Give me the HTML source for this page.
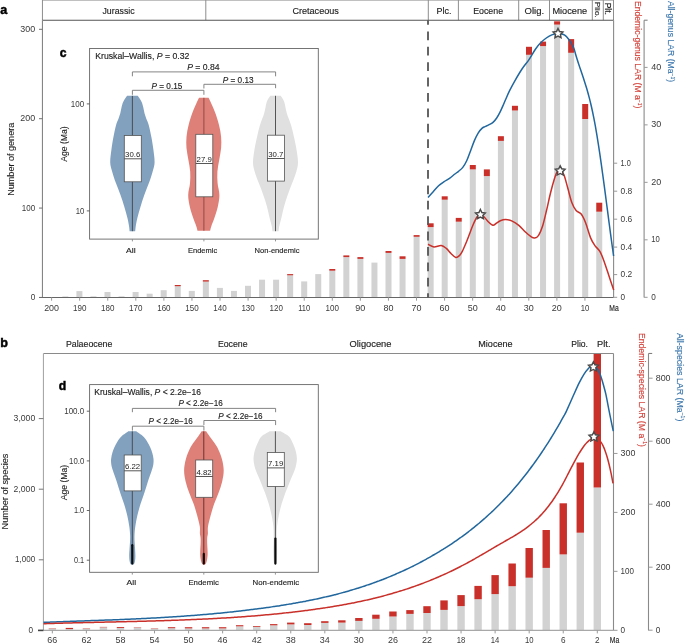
<!DOCTYPE html><html><head><meta charset="utf-8"><style>html,body{margin:0;padding:0;background:#fff;}svg{display:block;}text{font-family:"Liberation Sans", sans-serif;}</style></head><body>
<svg width="685" height="643" viewBox="0 0 685 643" style="will-change:transform">
<rect width="685" height="643" fill="#fff"/>
<text x="0.2" y="13.8" font-size="12.6" text-anchor="start" fill="#000" font-weight="bold" stroke="#000" stroke-width="0.45">a</text>
<line x1="42.5" y1="0.45" x2="613.5" y2="0.45" stroke="#b4b4b4" stroke-width="0.9"/>
<line x1="42.45" y1="0" x2="42.45" y2="20.2" stroke="#8e8e8e" stroke-width="1"/>
<line x1="205.8" y1="0" x2="205.8" y2="20.2" stroke="#8e8e8e" stroke-width="1"/>
<line x1="428.3" y1="0" x2="428.3" y2="20.2" stroke="#8e8e8e" stroke-width="1"/>
<line x1="458.4" y1="0" x2="458.4" y2="20.2" stroke="#8e8e8e" stroke-width="1"/>
<line x1="518.7" y1="0" x2="518.7" y2="20.2" stroke="#8e8e8e" stroke-width="1"/>
<line x1="549.5" y1="0" x2="549.5" y2="20.2" stroke="#8e8e8e" stroke-width="1"/>
<line x1="592.3" y1="0" x2="592.3" y2="20.2" stroke="#8e8e8e" stroke-width="1"/>
<line x1="603.3" y1="0" x2="603.3" y2="20.2" stroke="#8e8e8e" stroke-width="1"/>
<line x1="613.5" y1="0" x2="613.5" y2="20.2" stroke="#8e8e8e" stroke-width="1"/>
<line x1="42.45" y1="20.3" x2="613.6" y2="20.3" stroke="#555" stroke-width="1.1"/>
<text x="118.55" y="14.1" font-size="8.6" text-anchor="middle" fill="#1e1e1e" font-weight="normal" textLength="32.1" lengthAdjust="spacingAndGlyphs" stroke="#1e1e1e" stroke-width="0.14">Jurassic</text>
<text x="315.65" y="14.1" font-size="8.6" text-anchor="middle" fill="#1e1e1e" font-weight="normal" textLength="46.5" lengthAdjust="spacingAndGlyphs" stroke="#1e1e1e" stroke-width="0.14">Cretaceous</text>
<text x="443.95" y="14.1" font-size="8.6" text-anchor="middle" fill="#1e1e1e" font-weight="normal" textLength="14.9" lengthAdjust="spacingAndGlyphs" stroke="#1e1e1e" stroke-width="0.14">Plc.</text>
<text x="488.15" y="14.1" font-size="8.6" text-anchor="middle" fill="#1e1e1e" font-weight="normal" textLength="29.9" lengthAdjust="spacingAndGlyphs" stroke="#1e1e1e" stroke-width="0.14">Eocene</text>
<text x="534.4" y="14.1" font-size="8.6" text-anchor="middle" fill="#1e1e1e" font-weight="normal" textLength="19.6" lengthAdjust="spacingAndGlyphs" stroke="#1e1e1e" stroke-width="0.14">Olig.</text>
<text x="569.8" y="14.1" font-size="8.6" text-anchor="middle" fill="#1e1e1e" font-weight="normal" textLength="34.7" lengthAdjust="spacingAndGlyphs" stroke="#1e1e1e" stroke-width="0.14">Miocene</text>
<text x="0" y="0" font-size="7.6" fill="#1e1e1e" stroke="#1e1e1e" stroke-width="0.15" textLength="16" lengthAdjust="spacingAndGlyphs" transform="translate(595.4,1.8) rotate(90)">Plio.</text>
<text x="0" y="0" font-size="8.4" fill="#1e1e1e" stroke="#1e1e1e" stroke-width="0.15" textLength="12.2" lengthAdjust="spacingAndGlyphs" transform="translate(605.4,2.7) rotate(90)">Plt.</text>
<rect x="62.35" y="296.4" width="6" height="1.05" fill="#d2d2d2"/>
<rect x="76.4" y="291.1" width="6" height="6.35" fill="#d2d2d2"/>
<rect x="90.45" y="296.3" width="6" height="1.15" fill="#d2d2d2"/>
<rect x="104.5" y="292" width="6" height="5.45" fill="#d2d2d2"/>
<rect x="118.55" y="296.3" width="6" height="1.15" fill="#d2d2d2"/>
<rect x="132.6" y="292" width="6" height="5.45" fill="#d2d2d2"/>
<rect x="146.65" y="293.7" width="6" height="3.75" fill="#d2d2d2"/>
<rect x="160.7" y="290.2" width="6" height="7.25" fill="#d2d2d2"/>
<rect x="174.75" y="286.2" width="6" height="11.25" fill="#d2d2d2"/>
<rect x="174.75" y="285" width="6" height="1.2" fill="#c9302a"/>
<rect x="188.8" y="290.9" width="6" height="6.55" fill="#d2d2d2"/>
<rect x="202.85" y="281.6" width="6" height="15.85" fill="#d2d2d2"/>
<rect x="202.85" y="280.2" width="6" height="1.4" fill="#c9302a"/>
<rect x="216.9" y="287.9" width="6" height="9.55" fill="#d2d2d2"/>
<rect x="230.95" y="290.9" width="6" height="6.55" fill="#d2d2d2"/>
<rect x="245" y="285.8" width="6" height="11.65" fill="#d2d2d2"/>
<rect x="259.05" y="279.7" width="6" height="17.75" fill="#d2d2d2"/>
<rect x="273.1" y="279.7" width="6" height="17.75" fill="#d2d2d2"/>
<rect x="287.15" y="275.3" width="6" height="22.15" fill="#d2d2d2"/>
<rect x="287.15" y="274.1" width="6" height="1.2" fill="#c9302a"/>
<rect x="301.2" y="281.4" width="6" height="16.05" fill="#d2d2d2"/>
<rect x="315.25" y="274.1" width="6" height="23.35" fill="#d2d2d2"/>
<rect x="329.3" y="270.7" width="6" height="26.75" fill="#d2d2d2"/>
<rect x="329.3" y="269" width="6" height="1.7" fill="#c9302a"/>
<rect x="343.35" y="257.1" width="6" height="40.35" fill="#d2d2d2"/>
<rect x="343.35" y="255.4" width="6" height="1.7" fill="#c9302a"/>
<rect x="357.4" y="258.9" width="6" height="38.55" fill="#d2d2d2"/>
<rect x="357.4" y="257.1" width="6" height="1.8" fill="#c9302a"/>
<rect x="371.45" y="262.6" width="6" height="34.85" fill="#d2d2d2"/>
<rect x="385.5" y="252.9" width="6" height="44.55" fill="#d2d2d2"/>
<rect x="385.5" y="251" width="6" height="1.9" fill="#c9302a"/>
<rect x="399.55" y="258.9" width="6" height="38.55" fill="#d2d2d2"/>
<rect x="399.55" y="256.3" width="6" height="2.6" fill="#c9302a"/>
<rect x="413.6" y="236.8" width="6" height="60.65" fill="#d2d2d2"/>
<rect x="413.6" y="235.1" width="6" height="1.7" fill="#c9302a"/>
<rect x="427.65" y="227.1" width="6" height="70.35" fill="#d2d2d2"/>
<rect x="427.65" y="223.3" width="6" height="3.8" fill="#c9302a"/>
<rect x="441.7" y="199.7" width="6" height="97.75" fill="#d2d2d2"/>
<rect x="441.7" y="196.3" width="6" height="3.4" fill="#c9302a"/>
<rect x="455.75" y="221.7" width="6" height="75.75" fill="#d2d2d2"/>
<rect x="455.75" y="217.9" width="6" height="3.8" fill="#c9302a"/>
<rect x="469.8" y="169.4" width="6" height="128.05" fill="#d2d2d2"/>
<rect x="469.8" y="165" width="6" height="4.4" fill="#c9302a"/>
<rect x="483.85" y="176.1" width="6" height="121.35" fill="#d2d2d2"/>
<rect x="483.85" y="169.4" width="6" height="6.7" fill="#c9302a"/>
<rect x="497.9" y="140.9" width="6" height="156.55" fill="#d2d2d2"/>
<rect x="497.9" y="136.2" width="6" height="4.7" fill="#c9302a"/>
<rect x="511.95" y="110.5" width="6" height="186.95" fill="#d2d2d2"/>
<rect x="511.95" y="105.8" width="6" height="4.7" fill="#c9302a"/>
<rect x="526" y="54.8" width="6" height="242.65" fill="#d2d2d2"/>
<rect x="526" y="46.8" width="6" height="8" fill="#c9302a"/>
<rect x="540.05" y="46.1" width="6" height="251.35" fill="#d2d2d2"/>
<rect x="540.05" y="41.6" width="6" height="4.5" fill="#c9302a"/>
<rect x="554.1" y="24.6" width="6" height="272.85" fill="#d2d2d2"/>
<rect x="554.1" y="21.3" width="6" height="3.3" fill="#c9302a"/>
<rect x="568.15" y="52.8" width="6" height="244.65" fill="#d2d2d2"/>
<rect x="568.15" y="39.1" width="6" height="13.7" fill="#c9302a"/>
<rect x="582.2" y="119" width="6" height="178.45" fill="#d2d2d2"/>
<rect x="582.2" y="104" width="6" height="15" fill="#c9302a"/>
<rect x="596.25" y="211.7" width="6" height="85.75" fill="#d2d2d2"/>
<rect x="596.25" y="202.7" width="6" height="9" fill="#c9302a"/>
<line x1="42.45" y1="20.2" x2="42.45" y2="297.45" stroke="#858585" stroke-width="1.1"/>
<line x1="613.6" y1="20.2" x2="613.6" y2="297.45" stroke="#8a8a8a" stroke-width="1.1"/>
<line x1="39" y1="297.45" x2="613.6" y2="297.45" stroke="#666" stroke-width="1.1"/>
<line x1="39" y1="297.45" x2="42.45" y2="297.45" stroke="#707070" stroke-width="1"/>
<text x="35.2" y="299.95" font-size="8.2" text-anchor="end" fill="#3a3a3a" font-weight="normal">0</text>
<line x1="39" y1="208.07" x2="42.45" y2="208.07" stroke="#707070" stroke-width="1"/>
<text x="35.2" y="210.57" font-size="8.2" text-anchor="end" fill="#3a3a3a" font-weight="normal" textLength="13.4" lengthAdjust="spacingAndGlyphs">100</text>
<line x1="39" y1="118.69" x2="42.45" y2="118.69" stroke="#707070" stroke-width="1"/>
<text x="35.2" y="121.19" font-size="8.2" text-anchor="end" fill="#3a3a3a" font-weight="normal" textLength="14.85" lengthAdjust="spacingAndGlyphs">200</text>
<line x1="39" y1="29.31" x2="42.45" y2="29.31" stroke="#707070" stroke-width="1"/>
<text x="35.2" y="31.81" font-size="8.2" text-anchor="end" fill="#3a3a3a" font-weight="normal" textLength="14.85" lengthAdjust="spacingAndGlyphs">300</text>
<line x1="51.6" y1="297.45" x2="51.6" y2="300.7" stroke="#9a9a9a" stroke-width="1"/>
<text x="51.6" y="311.1" font-size="8.2" text-anchor="middle" fill="#3a3a3a" font-weight="normal" textLength="14.85" lengthAdjust="spacingAndGlyphs">200</text>
<line x1="79.67" y1="297.45" x2="79.67" y2="300.7" stroke="#9a9a9a" stroke-width="1"/>
<text x="79.67" y="311.1" font-size="8.2" text-anchor="middle" fill="#3a3a3a" font-weight="normal" textLength="13.4" lengthAdjust="spacingAndGlyphs">190</text>
<line x1="107.74" y1="297.45" x2="107.74" y2="300.7" stroke="#9a9a9a" stroke-width="1"/>
<text x="107.74" y="311.1" font-size="8.2" text-anchor="middle" fill="#3a3a3a" font-weight="normal" textLength="13.4" lengthAdjust="spacingAndGlyphs">180</text>
<line x1="135.81" y1="297.45" x2="135.81" y2="300.7" stroke="#9a9a9a" stroke-width="1"/>
<text x="135.81" y="311.1" font-size="8.2" text-anchor="middle" fill="#3a3a3a" font-weight="normal" textLength="13.4" lengthAdjust="spacingAndGlyphs">170</text>
<line x1="163.88" y1="297.45" x2="163.88" y2="300.7" stroke="#9a9a9a" stroke-width="1"/>
<text x="163.88" y="311.1" font-size="8.2" text-anchor="middle" fill="#3a3a3a" font-weight="normal" textLength="13.4" lengthAdjust="spacingAndGlyphs">160</text>
<line x1="191.95" y1="297.45" x2="191.95" y2="300.7" stroke="#9a9a9a" stroke-width="1"/>
<text x="191.95" y="311.1" font-size="8.2" text-anchor="middle" fill="#3a3a3a" font-weight="normal" textLength="13.4" lengthAdjust="spacingAndGlyphs">150</text>
<line x1="220.02" y1="297.45" x2="220.02" y2="300.7" stroke="#9a9a9a" stroke-width="1"/>
<text x="220.02" y="311.1" font-size="8.2" text-anchor="middle" fill="#3a3a3a" font-weight="normal" textLength="13.4" lengthAdjust="spacingAndGlyphs">140</text>
<line x1="248.09" y1="297.45" x2="248.09" y2="300.7" stroke="#9a9a9a" stroke-width="1"/>
<text x="248.09" y="311.1" font-size="8.2" text-anchor="middle" fill="#3a3a3a" font-weight="normal" textLength="13.4" lengthAdjust="spacingAndGlyphs">130</text>
<line x1="276.16" y1="297.45" x2="276.16" y2="300.7" stroke="#9a9a9a" stroke-width="1"/>
<text x="276.16" y="311.1" font-size="8.2" text-anchor="middle" fill="#3a3a3a" font-weight="normal" textLength="13.4" lengthAdjust="spacingAndGlyphs">120</text>
<line x1="304.23" y1="297.45" x2="304.23" y2="300.7" stroke="#9a9a9a" stroke-width="1"/>
<text x="304.23" y="311.1" font-size="8.2" text-anchor="middle" fill="#3a3a3a" font-weight="normal" textLength="11.95" lengthAdjust="spacingAndGlyphs">110</text>
<line x1="332.3" y1="297.45" x2="332.3" y2="300.7" stroke="#9a9a9a" stroke-width="1"/>
<text x="332.3" y="311.1" font-size="8.2" text-anchor="middle" fill="#3a3a3a" font-weight="normal" textLength="13.4" lengthAdjust="spacingAndGlyphs">100</text>
<line x1="360.37" y1="297.45" x2="360.37" y2="300.7" stroke="#9a9a9a" stroke-width="1"/>
<text x="360.37" y="311.1" font-size="8.2" text-anchor="middle" fill="#3a3a3a" font-weight="normal" textLength="10" lengthAdjust="spacingAndGlyphs">90</text>
<line x1="388.44" y1="297.45" x2="388.44" y2="300.7" stroke="#9a9a9a" stroke-width="1"/>
<text x="388.44" y="311.1" font-size="8.2" text-anchor="middle" fill="#3a3a3a" font-weight="normal" textLength="10" lengthAdjust="spacingAndGlyphs">80</text>
<line x1="416.51" y1="297.45" x2="416.51" y2="300.7" stroke="#9a9a9a" stroke-width="1"/>
<text x="416.51" y="311.1" font-size="8.2" text-anchor="middle" fill="#3a3a3a" font-weight="normal" textLength="10" lengthAdjust="spacingAndGlyphs">70</text>
<line x1="444.58" y1="297.45" x2="444.58" y2="300.7" stroke="#9a9a9a" stroke-width="1"/>
<text x="444.58" y="311.1" font-size="8.2" text-anchor="middle" fill="#3a3a3a" font-weight="normal" textLength="10" lengthAdjust="spacingAndGlyphs">60</text>
<line x1="472.65" y1="297.45" x2="472.65" y2="300.7" stroke="#9a9a9a" stroke-width="1"/>
<text x="472.65" y="311.1" font-size="8.2" text-anchor="middle" fill="#3a3a3a" font-weight="normal" textLength="10" lengthAdjust="spacingAndGlyphs">50</text>
<line x1="500.72" y1="297.45" x2="500.72" y2="300.7" stroke="#9a9a9a" stroke-width="1"/>
<text x="500.72" y="311.1" font-size="8.2" text-anchor="middle" fill="#3a3a3a" font-weight="normal" textLength="10" lengthAdjust="spacingAndGlyphs">40</text>
<line x1="528.79" y1="297.45" x2="528.79" y2="300.7" stroke="#9a9a9a" stroke-width="1"/>
<text x="528.79" y="311.1" font-size="8.2" text-anchor="middle" fill="#3a3a3a" font-weight="normal" textLength="10" lengthAdjust="spacingAndGlyphs">30</text>
<line x1="556.86" y1="297.45" x2="556.86" y2="300.7" stroke="#9a9a9a" stroke-width="1"/>
<text x="556.86" y="311.1" font-size="8.2" text-anchor="middle" fill="#3a3a3a" font-weight="normal" textLength="10" lengthAdjust="spacingAndGlyphs">20</text>
<line x1="584.93" y1="297.45" x2="584.93" y2="300.7" stroke="#9a9a9a" stroke-width="1"/>
<text x="584.93" y="311.1" font-size="8.2" text-anchor="middle" fill="#3a3a3a" font-weight="normal" textLength="8.55" lengthAdjust="spacingAndGlyphs">10</text>
<text x="614" y="311.1" font-size="8.2" text-anchor="middle" fill="#1e1e1e" font-weight="normal" textLength="9.4" lengthAdjust="spacingAndGlyphs" stroke="#1e1e1e" stroke-width="0.14">Ma</text>
<line x1="428" y1="20.2" x2="428" y2="297.45" stroke="#555" stroke-width="1.8" stroke-dasharray="8.8 6.6" stroke-dashoffset="4.2"/>
<path d="M428,197.4 C428.87,196.45 431.43,193.65 433.2,191.7 C434.97,189.75 436.78,187.38 438.6,185.7 C440.42,184.02 442.28,182.83 444.1,181.6 C445.92,180.37 447.7,179.57 449.5,178.3 C451.3,177.03 453.4,175.17 454.9,174 C456.4,172.83 457.18,172.4 458.5,171.3 C459.82,170.2 461.43,169.15 462.8,167.4 C464.17,165.65 465.4,163.58 466.7,160.8 C468,158.02 469.32,154.07 470.6,150.7 C471.88,147.33 473.12,143.58 474.4,140.6 C475.68,137.62 477,134.88 478.3,132.8 C479.6,130.72 481.08,129.13 482.2,128.1 C483.32,127.07 483.92,127.13 485,126.6 C486.08,126.07 487.37,125.6 488.7,124.9 C490.03,124.2 491.67,123.55 493,122.4 C494.33,121.25 495.55,119.67 496.7,118 C497.85,116.33 498.85,114.47 499.9,112.4 C500.95,110.33 502.07,107.7 503,105.6 C503.93,103.5 504.4,102.28 505.5,99.8 C506.6,97.32 508.02,93.9 509.6,90.7 C511.18,87.5 512.93,84.22 515,80.6 C517.07,76.98 519.67,72.5 522,69 C524.33,65.5 526.77,62.9 529,59.6 C531.23,56.3 533.42,52.03 535.4,49.2 C537.38,46.37 539.08,44.47 540.9,42.6 C542.72,40.73 544.48,39.28 546.3,38 C548.12,36.72 549.88,35.63 551.8,34.9 C553.72,34.17 556.12,33.75 557.8,33.6 C559.48,33.45 560.75,33.75 561.9,34 C563.05,34.25 563.85,34.57 564.7,35.1 C565.55,35.63 566.23,36.38 567,37.2 C567.77,38.02 568.52,38.87 569.3,40 C570.08,41.13 570.92,42.55 571.7,44 C572.48,45.45 573.36,47.04 574,48.7 C574.64,50.36 575.02,52.24 575.52,53.96 C576.03,55.67 576.54,57.36 577.05,58.98 C577.55,60.61 578.06,62.18 578.57,63.72 C579.08,65.27 579.58,66.77 580.09,68.28 C580.6,69.79 581.11,71.26 581.62,72.76 C582.12,74.26 582.63,75.74 583.14,77.26 C583.65,78.79 584.15,80.32 584.66,81.9 C585.17,83.49 585.68,85.09 586.18,86.78 C586.69,88.46 587.2,90.18 587.71,91.99 C588.22,93.81 588.72,95.68 589.23,97.64 C589.74,99.61 590.25,101.65 590.75,103.79 C591.26,105.94 591.77,108.17 592.28,110.52 C592.78,112.87 593.29,115.32 593.8,117.9 C594.31,120.47 594.82,123.17 595.32,125.99 C595.83,128.8 596.34,131.74 596.85,134.78 C597.35,137.83 597.86,141 598.37,144.27 C598.88,147.53 599.38,150.92 599.89,154.38 C600.4,157.84 600.91,161.41 601.42,165.02 C601.92,168.64 602.43,172.35 602.94,176.08 C603.45,179.82 603.95,183.63 604.46,187.45 C604.97,191.27 605.48,195.15 605.98,199.02 C606.49,202.89 607,206.79 607.51,210.67 C608.02,214.55 608.52,218.45 609.03,222.31 C609.54,226.16 610.05,230.02 610.55,233.81 C611.06,237.61 611.57,241.38 612.08,245.08 C612.58,248.77 613.35,254.17 613.6,255.99" fill="none" stroke="#21679d" stroke-width="1.5" stroke-linejoin="round" stroke-linecap="butt"/>
<path d="M428,244.3 C428.98,244.73 431.7,246.7 433.9,246.9 C436.1,247.1 439.13,245.25 441.2,245.5 C443.27,245.75 444.67,247.07 446.3,248.4 C447.93,249.73 449.42,252 451,253.5 C452.58,255 454.38,257.07 455.8,257.4 C457.22,257.73 458.42,256.52 459.5,255.5 C460.58,254.48 461.22,253.38 462.3,251.3 C463.38,249.22 464.78,245.92 466,243 C467.22,240.08 468.43,236.8 469.6,233.8 C470.77,230.8 471.78,227.8 473,225 C474.22,222.2 475.68,218.82 476.9,217 C478.12,215.18 479.08,214.1 480.3,214.1 C481.52,214.1 482.83,215.68 484.2,217 C485.57,218.32 487.03,220.62 488.5,222 C489.97,223.38 491.75,225.05 493,225.3 C494.25,225.55 494.78,224.25 496,223.5 C497.22,222.75 498.7,221.47 500.3,220.8 C501.9,220.13 503.62,219.45 505.6,219.5 C507.58,219.55 510,220.12 512.2,221.1 C514.4,222.08 516.6,223.58 518.8,225.4 C521,227.22 523.42,230.17 525.4,232 C527.38,233.83 529.15,235.4 530.7,236.4 C532.25,237.4 533.38,238.18 534.7,238 C536.02,237.82 537.28,237.28 538.6,235.3 C539.92,233.32 541.27,230.28 542.6,226.1 C543.93,221.92 545.28,215.72 546.6,210.2 C547.92,204.68 549.18,198.28 550.5,193 C551.82,187.72 553.4,182.02 554.5,178.5 C555.6,174.98 556.18,173.27 557.1,171.9 C558.02,170.53 558.88,169.87 560,170.3 C561.12,170.73 562.52,171.58 563.8,174.5 C565.08,177.42 566.37,183.13 567.7,187.8 C569.03,192.47 570.4,198.72 571.8,202.5 C573.2,206.28 574.53,208.58 576.1,210.5 C577.67,212.42 579.63,212 581.2,214 C582.77,216 583.93,218.52 585.5,222.5 C587.07,226.48 589.03,234.05 590.6,237.9 C592.17,241.75 593.33,243.32 594.9,245.6 C596.47,247.88 598.43,248.88 600,251.6 C601.57,254.32 602.73,257.62 604.3,261.9 C605.87,266.18 607.83,272.6 609.4,277.3 C610.97,282 612.98,287.97 613.7,290.1" fill="none" stroke="#c9302a" stroke-width="1.5" stroke-linejoin="round" stroke-linecap="butt"/>
<polygon points="558,28.5 559.5,31.54 562.85,32.02 560.43,34.39 561,37.73 558,36.15 555,37.73 555.57,34.39 553.15,32.02 556.5,31.54" fill="#fff" stroke="#4a4a4a" stroke-width="1.45" stroke-linejoin="miter"/>
<polygon points="480.4,209.5 481.9,212.54 485.25,213.02 482.83,215.39 483.4,218.73 480.4,217.15 477.4,218.73 477.97,215.39 475.55,213.02 478.9,212.54" fill="#fff" stroke="#4a4a4a" stroke-width="1.45" stroke-linejoin="miter"/>
<polygon points="560.2,165.8 561.7,168.84 565.05,169.32 562.63,171.69 563.2,175.03 560.2,173.45 557.2,175.03 557.77,171.69 555.35,169.32 558.7,168.84" fill="#fff" stroke="#4a4a4a" stroke-width="1.45" stroke-linejoin="miter"/>
<line x1="613.6" y1="297.3" x2="617.2" y2="297.3" stroke="#999" stroke-width="1"/>
<text x="620.5" y="299.8" font-size="8.2" text-anchor="start" fill="#3a3a3a" font-weight="normal">0</text>
<line x1="613.6" y1="274.6" x2="617.2" y2="274.6" stroke="#999" stroke-width="1"/>
<text x="620.5" y="277.1" font-size="8.2" text-anchor="start" fill="#3a3a3a" font-weight="normal" textLength="11.7" lengthAdjust="spacingAndGlyphs">0.2</text>
<line x1="613.6" y1="247.1" x2="617.2" y2="247.1" stroke="#999" stroke-width="1"/>
<text x="620.5" y="249.6" font-size="8.2" text-anchor="start" fill="#3a3a3a" font-weight="normal" textLength="11.7" lengthAdjust="spacingAndGlyphs">0.4</text>
<line x1="613.6" y1="219.2" x2="617.2" y2="219.2" stroke="#999" stroke-width="1"/>
<text x="620.5" y="221.7" font-size="8.2" text-anchor="start" fill="#3a3a3a" font-weight="normal" textLength="11.7" lengthAdjust="spacingAndGlyphs">0.6</text>
<line x1="613.6" y1="191.2" x2="617.2" y2="191.2" stroke="#999" stroke-width="1"/>
<text x="620.5" y="193.7" font-size="8.2" text-anchor="start" fill="#3a3a3a" font-weight="normal" textLength="11.7" lengthAdjust="spacingAndGlyphs">0.8</text>
<line x1="613.6" y1="163.2" x2="617.2" y2="163.2" stroke="#999" stroke-width="1"/>
<text x="620.5" y="165.7" font-size="8.2" text-anchor="start" fill="#3a3a3a" font-weight="normal" textLength="10.25" lengthAdjust="spacingAndGlyphs">1.0</text>
<line x1="644.1" y1="20.2" x2="644.1" y2="297.4" stroke="#8a8a8a" stroke-width="1.1"/>
<line x1="644.1" y1="20.2" x2="647.6" y2="20.2" stroke="#777" stroke-width="1"/>
<line x1="644.1" y1="297.3" x2="647.6" y2="297.3" stroke="#999" stroke-width="1"/>
<text x="651.2" y="299.8" font-size="8.2" text-anchor="start" fill="#3a3a3a" font-weight="normal">0</text>
<line x1="644.1" y1="239.82" x2="647.6" y2="239.82" stroke="#999" stroke-width="1"/>
<text x="651.2" y="242.32" font-size="8.2" text-anchor="start" fill="#3a3a3a" font-weight="normal" textLength="8.55" lengthAdjust="spacingAndGlyphs">10</text>
<line x1="644.1" y1="182.34" x2="647.6" y2="182.34" stroke="#999" stroke-width="1"/>
<text x="651.2" y="184.84" font-size="8.2" text-anchor="start" fill="#3a3a3a" font-weight="normal" textLength="10" lengthAdjust="spacingAndGlyphs">20</text>
<line x1="644.1" y1="124.86" x2="647.6" y2="124.86" stroke="#999" stroke-width="1"/>
<text x="651.2" y="127.36" font-size="8.2" text-anchor="start" fill="#3a3a3a" font-weight="normal" textLength="10" lengthAdjust="spacingAndGlyphs">30</text>
<line x1="644.1" y1="67.38" x2="647.6" y2="67.38" stroke="#999" stroke-width="1"/>
<text x="651.2" y="69.88" font-size="8.2" text-anchor="start" fill="#3a3a3a" font-weight="normal" textLength="10" lengthAdjust="spacingAndGlyphs">40</text>
<text x="0" y="0" font-size="8.3" fill="#d4443c" stroke="#d4443c" stroke-width="0.15" textLength="107.5" lengthAdjust="spacingAndGlyphs" transform="translate(634.8,0.9) rotate(90)">Endemic-genus LAR (M a<tspan dy="-3.4" font-size="4.8">−1</tspan><tspan dy="3.4">)</tspan></text>
<text x="0" y="0" font-size="8.3" fill="#3d77ad" stroke="#3d77ad" stroke-width="0.15" textLength="81.3" lengthAdjust="spacingAndGlyphs" transform="translate(667.6,0.9) rotate(90)">All-genus LAR (Ma<tspan dy="-3.4" font-size="4.8">−1</tspan><tspan dy="3.4">)</tspan></text>
<text x="0" y="0" font-size="8.4" fill="#1e1e1e" stroke="#1e1e1e" stroke-width="0.1" text-anchor="middle" textLength="73" lengthAdjust="spacingAndGlyphs" transform="translate(14.4,159.25) rotate(-90)">Number of genera</text>
<rect x="89.6" y="48.5" width="228.7" height="190.6" fill="#fff" stroke="#666" stroke-width="0.9"/>
<text x="59.8" y="56.5" font-size="12.2" text-anchor="start" fill="#000" font-weight="bold" stroke="#000" stroke-width="0.45">c</text>
<text x="95.2" y="59.1" font-size="8.4" text-anchor="start" fill="#1e1e1e" font-weight="normal" textLength="94.2" lengthAdjust="spacingAndGlyphs" stroke="#1e1e1e" stroke-width="0.14">Kruskal–Wallis, <tspan font-style="italic">P</tspan> = 0.32</text>
<line x1="86.8" y1="103.9" x2="89.6" y2="103.9" stroke="#555" stroke-width="0.9"/>
<text x="84.2" y="106.8" font-size="8.2" text-anchor="end" fill="#3a3a3a" font-weight="normal" textLength="13.4" lengthAdjust="spacingAndGlyphs">100</text>
<line x1="86.8" y1="210.9" x2="89.6" y2="210.9" stroke="#555" stroke-width="0.9"/>
<text x="84.2" y="213.8" font-size="8.2" text-anchor="end" fill="#3a3a3a" font-weight="normal" textLength="8.55" lengthAdjust="spacingAndGlyphs">10</text>
<text x="0" y="0" font-size="8.2" fill="#1e1e1e" stroke="#1e1e1e" stroke-width="0.1" text-anchor="middle" textLength="35.5" lengthAdjust="spacingAndGlyphs" transform="translate(67.3,144.1) rotate(-90)">Age (Ma)</text>
<path d="M132.4,76.3 V71.9 H275.6 V76.3" fill="none" stroke="#777" stroke-width="0.9"/>
<text x="203.4" y="70.4" font-size="8.4" text-anchor="middle" fill="#1e1e1e" font-weight="normal" textLength="32.4" lengthAdjust="spacingAndGlyphs" stroke="#1e1e1e" stroke-width="0.14"><tspan font-style="italic">P</tspan> = 0.84</text>
<path d="M203.9,88.5 V84.3 H275.6 V88.2" fill="none" stroke="#777" stroke-width="0.9"/>
<text x="238.15" y="82.8" font-size="8.4" text-anchor="middle" fill="#1e1e1e" font-weight="normal" textLength="30.9" lengthAdjust="spacingAndGlyphs" stroke="#1e1e1e" stroke-width="0.14"><tspan font-style="italic">P</tspan> = 0.13</text>
<path d="M132.4,94.8 V90.3 H203.9 V94.8" fill="none" stroke="#777" stroke-width="0.9"/>
<text x="166.9" y="88.5" font-size="8.4" text-anchor="middle" fill="#1e1e1e" font-weight="normal" textLength="30.8" lengthAdjust="spacingAndGlyphs" stroke="#1e1e1e" stroke-width="0.14"><tspan font-style="italic">P</tspan> = 0.15</text>
<path d="M127.1,95.8 C126.47,96.78 124.22,99.83 123.3,101.7 C122.38,103.57 122.1,105.07 121.6,107 C121.1,108.93 120.83,111.3 120.3,113.3 C119.77,115.3 119.1,117.05 118.4,119 C117.7,120.95 116.92,122.05 116.1,125 C115.28,127.95 114.25,132.82 113.5,136.7 C112.75,140.58 112.15,144.03 111.6,148.3 C111.05,152.57 110.1,158.4 110.2,162.3 C110.3,166.2 111.23,168.2 112.2,171.7 C113.17,175.2 114.62,179.42 116,183.3 C117.38,187.18 119.12,191.1 120.5,195 C121.88,198.9 123.13,202.82 124.3,206.7 C125.47,210.58 126.72,215.08 127.5,218.3 C128.28,221.52 128.65,223.85 129,226 C129.35,228.15 129.5,230.33 129.6,231.2 L135.2,231.2 C135.3,230.33 135.45,228.15 135.8,226 C136.15,223.85 136.52,221.52 137.3,218.3 C138.08,215.08 139.33,210.58 140.5,206.7 C141.67,202.82 142.92,198.9 144.3,195 C145.68,191.1 147.42,187.18 148.8,183.3 C150.18,179.42 151.63,175.2 152.6,171.7 C153.57,168.2 154.5,166.2 154.6,162.3 C154.7,158.4 153.75,152.57 153.2,148.3 C152.65,144.03 152.05,140.58 151.3,136.7 C150.55,132.82 149.52,127.95 148.7,125 C147.88,122.05 147.1,120.95 146.4,119 C145.7,117.05 145.03,115.3 144.5,113.3 C143.97,111.3 143.7,108.93 143.2,107 C142.7,105.07 142.42,103.57 141.5,101.7 C140.58,99.83 138.33,96.78 137.7,95.8 Z" fill="#81a1bf"/>
<path d="M199,97.8 C198.52,98.83 197.23,101.42 196.1,104 C194.97,106.58 193.45,109.8 192.2,113.3 C190.95,116.8 189.55,121.1 188.6,125 C187.65,128.9 186.85,132.82 186.5,136.7 C186.15,140.58 186.18,144.42 186.5,148.3 C186.82,152.18 187.78,156.1 188.4,160 C189.02,163.9 189.93,167.82 190.2,171.7 C190.47,175.58 190.33,179.42 190,183.3 C189.67,187.18 188.23,191.1 188.2,195 C188.17,198.9 188.95,202.82 189.8,206.7 C190.65,210.58 192.23,215.08 193.3,218.3 C194.37,221.52 195.5,223.93 196.2,226 C196.9,228.07 197.28,229.92 197.5,230.7 L210.1,230.7 C210.32,229.92 210.7,228.07 211.4,226 C212.1,223.93 213.23,221.52 214.3,218.3 C215.37,215.08 216.95,210.58 217.8,206.7 C218.65,202.82 219.43,198.9 219.4,195 C219.37,191.1 217.93,187.18 217.6,183.3 C217.27,179.42 217.13,175.58 217.4,171.7 C217.67,167.82 218.58,163.9 219.2,160 C219.82,156.1 220.78,152.18 221.1,148.3 C221.42,144.42 221.45,140.58 221.1,136.7 C220.75,132.82 219.95,128.9 219,125 C218.05,121.1 216.65,116.8 215.4,113.3 C214.15,109.8 212.63,106.58 211.5,104 C210.37,101.42 209.08,98.83 208.6,97.8 Z" fill="#de8078"/>
<path d="M270.3,95.8 C269.72,96.78 267.82,98.78 266.8,101.7 C265.78,104.62 265.33,109.42 264.2,113.3 C263.07,117.18 261.18,121.1 260,125 C258.82,128.9 257.98,132.82 257.1,136.7 C256.22,140.58 255.38,144.03 254.7,148.3 C254.02,152.57 253,158.4 253,162.3 C253,166.2 253.72,168.2 254.7,171.7 C255.68,175.2 257.47,179.42 258.9,183.3 C260.33,187.18 261.95,191.1 263.3,195 C264.65,198.9 265.93,202.82 267,206.7 C268.07,210.58 268.92,215.08 269.7,218.3 C270.48,221.52 271.25,223.85 271.7,226 C272.15,228.15 272.28,230.33 272.4,231.2 L278.6,231.2 C278.72,230.33 278.85,228.15 279.3,226 C279.75,223.85 280.52,221.52 281.3,218.3 C282.08,215.08 282.93,210.58 284,206.7 C285.07,202.82 286.35,198.9 287.7,195 C289.05,191.1 290.67,187.18 292.1,183.3 C293.53,179.42 295.32,175.2 296.3,171.7 C297.28,168.2 298,166.2 298,162.3 C298,158.4 296.98,152.57 296.3,148.3 C295.62,144.03 294.78,140.58 293.9,136.7 C293.02,132.82 292.18,128.9 291,125 C289.82,121.1 287.93,117.18 286.8,113.3 C285.67,109.42 285.22,104.62 284.2,101.7 C283.18,98.78 281.28,96.78 280.7,95.8 Z" fill="#e0e0e0"/>
<line x1="132.4" y1="95.8" x2="132.4" y2="231.2" stroke="#444" stroke-width="0.9"/>
<rect x="124.3" y="135.5" width="17" height="46.3" fill="#fff" stroke="#555" stroke-width="0.8"/>
<line x1="124.3" y1="158.8" x2="141.3" y2="158.8" stroke="#444" stroke-width="0.9"/>
<text x="132.7" y="156.9" font-size="7.8" text-anchor="middle" fill="#222" font-weight="normal">30.6</text>
<line x1="203.9" y1="97.8" x2="203.9" y2="230.7" stroke="#8a4440" stroke-width="0.9"/>
<rect x="195.8" y="134.3" width="17" height="62.5" fill="#fff" stroke="#555" stroke-width="0.8"/>
<line x1="195.8" y1="163.5" x2="212.8" y2="163.5" stroke="#444" stroke-width="0.9"/>
<text x="204.2" y="161.6" font-size="7.8" text-anchor="middle" fill="#222" font-weight="normal">27.9</text>
<line x1="275.5" y1="95.8" x2="275.5" y2="231.2" stroke="#444" stroke-width="0.9"/>
<rect x="267.4" y="135.2" width="17" height="45.9" fill="#fff" stroke="#555" stroke-width="0.8"/>
<line x1="267.4" y1="158.5" x2="284.4" y2="158.5" stroke="#444" stroke-width="0.9"/>
<text x="275.8" y="156.6" font-size="7.8" text-anchor="middle" fill="#222" font-weight="normal">30.7</text>
<line x1="132.4" y1="239.1" x2="132.4" y2="241.4" stroke="#888" stroke-width="0.9"/>
<line x1="203.9" y1="239.1" x2="203.9" y2="241.4" stroke="#888" stroke-width="0.9"/>
<line x1="275.5" y1="239.1" x2="275.5" y2="241.4" stroke="#888" stroke-width="0.9"/>
<text x="130.9" y="252.7" font-size="7.9" text-anchor="middle" fill="#1e1e1e" font-weight="normal" textLength="9.6" lengthAdjust="spacingAndGlyphs" stroke="#1e1e1e" stroke-width="0.14">All</text>
<text x="202.6" y="252.7" font-size="7.9" text-anchor="middle" fill="#1e1e1e" font-weight="normal" textLength="29.2" lengthAdjust="spacingAndGlyphs" stroke="#1e1e1e" stroke-width="0.14">Endemic</text>
<text x="277" y="252.7" font-size="7.9" text-anchor="middle" fill="#1e1e1e" font-weight="normal" textLength="45" lengthAdjust="spacingAndGlyphs" stroke="#1e1e1e" stroke-width="0.14">Non-endemic</text>
<text x="0.2" y="347.2" font-size="12.6" text-anchor="start" fill="#000" font-weight="bold" stroke="#000" stroke-width="0.45">b</text>
<text x="89.15" y="347.1" font-size="8.4" text-anchor="middle" fill="#1e1e1e" font-weight="normal" textLength="46.5" lengthAdjust="spacingAndGlyphs" stroke="#1e1e1e" stroke-width="0.14">Palaeocene</text>
<text x="232.75" y="347.1" font-size="8.4" text-anchor="middle" fill="#1e1e1e" font-weight="normal" textLength="29.7" lengthAdjust="spacingAndGlyphs" stroke="#1e1e1e" stroke-width="0.14">Eocene</text>
<text x="370.5" y="347.1" font-size="8.4" text-anchor="middle" fill="#1e1e1e" font-weight="normal" textLength="42" lengthAdjust="spacingAndGlyphs" stroke="#1e1e1e" stroke-width="0.14">Oligocene</text>
<text x="495.4" y="347.1" font-size="8.4" text-anchor="middle" fill="#1e1e1e" font-weight="normal" textLength="34.2" lengthAdjust="spacingAndGlyphs" stroke="#1e1e1e" stroke-width="0.14">Miocene</text>
<text x="579.65" y="347.1" font-size="8.4" text-anchor="middle" fill="#1e1e1e" font-weight="normal" textLength="16.7" lengthAdjust="spacingAndGlyphs" stroke="#1e1e1e" stroke-width="0.14">Plio.</text>
<text x="603.8" y="347.1" font-size="8.4" text-anchor="middle" fill="#1e1e1e" font-weight="normal" textLength="13.4" lengthAdjust="spacingAndGlyphs" stroke="#1e1e1e" stroke-width="0.14">Plt.</text>
<rect x="48.64" y="628.65" width="7.4" height="1.75" fill="#d2d2d2"/>
<rect x="48.64" y="628.3" width="7.4" height="0.35" fill="#c9302a"/>
<rect x="65.67" y="629" width="7.4" height="1.4" fill="#d2d2d2"/>
<rect x="65.67" y="627.9" width="7.4" height="1.1" fill="#c9302a"/>
<rect x="82.7" y="628.65" width="7.4" height="1.75" fill="#d2d2d2"/>
<rect x="82.7" y="628.3" width="7.4" height="0.35" fill="#c9302a"/>
<rect x="99.73" y="627.3" width="7.4" height="3.1" fill="#d2d2d2"/>
<rect x="99.73" y="626.9" width="7.4" height="0.4" fill="#c9302a"/>
<rect x="116.76" y="627.9" width="7.4" height="2.5" fill="#d2d2d2"/>
<rect x="116.76" y="627" width="7.4" height="0.9" fill="#c9302a"/>
<rect x="133.79" y="627.55" width="7.4" height="2.85" fill="#d2d2d2"/>
<rect x="133.79" y="627.2" width="7.4" height="0.35" fill="#c9302a"/>
<rect x="150.82" y="628.65" width="7.4" height="1.75" fill="#d2d2d2"/>
<rect x="150.82" y="628.3" width="7.4" height="0.35" fill="#c9302a"/>
<rect x="167.85" y="628.2" width="7.4" height="2.2" fill="#d2d2d2"/>
<rect x="167.85" y="627.2" width="7.4" height="1" fill="#c9302a"/>
<rect x="184.88" y="628.4" width="7.4" height="2" fill="#d2d2d2"/>
<rect x="184.88" y="627.2" width="7.4" height="1.2" fill="#c9302a"/>
<rect x="201.91" y="628.4" width="7.4" height="2" fill="#d2d2d2"/>
<rect x="201.91" y="627.2" width="7.4" height="1.2" fill="#c9302a"/>
<rect x="218.94" y="628.4" width="7.4" height="2" fill="#d2d2d2"/>
<rect x="218.94" y="627.2" width="7.4" height="1.2" fill="#c9302a"/>
<rect x="235.97" y="626.3" width="7.4" height="4.1" fill="#d2d2d2"/>
<rect x="235.97" y="625.2" width="7.4" height="1.1" fill="#c9302a"/>
<rect x="253" y="626.8" width="7.4" height="3.6" fill="#d2d2d2"/>
<rect x="253" y="626" width="7.4" height="0.8" fill="#c9302a"/>
<rect x="270.03" y="625.3" width="7.4" height="5.1" fill="#d2d2d2"/>
<rect x="270.03" y="624.1" width="7.4" height="1.2" fill="#c9302a"/>
<rect x="287.06" y="624.4" width="7.4" height="6" fill="#d2d2d2"/>
<rect x="287.06" y="622.6" width="7.4" height="1.8" fill="#c9302a"/>
<rect x="304.09" y="625" width="7.4" height="5.4" fill="#d2d2d2"/>
<rect x="304.09" y="623.2" width="7.4" height="1.8" fill="#c9302a"/>
<rect x="321.12" y="622.9" width="7.4" height="7.5" fill="#d2d2d2"/>
<rect x="321.12" y="621.2" width="7.4" height="1.7" fill="#c9302a"/>
<rect x="338.15" y="622.6" width="7.4" height="7.8" fill="#d2d2d2"/>
<rect x="338.15" y="620.3" width="7.4" height="2.3" fill="#c9302a"/>
<rect x="355.18" y="620.9" width="7.4" height="9.5" fill="#d2d2d2"/>
<rect x="355.18" y="618" width="7.4" height="2.9" fill="#c9302a"/>
<rect x="372.21" y="618.8" width="7.4" height="11.6" fill="#d2d2d2"/>
<rect x="372.21" y="614.7" width="7.4" height="4.1" fill="#c9302a"/>
<rect x="389.24" y="616.5" width="7.4" height="13.9" fill="#d2d2d2"/>
<rect x="389.24" y="611.5" width="7.4" height="5" fill="#c9302a"/>
<rect x="406.27" y="613.9" width="7.4" height="16.5" fill="#d2d2d2"/>
<rect x="406.27" y="610.1" width="7.4" height="3.8" fill="#c9302a"/>
<rect x="423.3" y="613" width="7.4" height="17.4" fill="#d2d2d2"/>
<rect x="423.3" y="606.2" width="7.4" height="6.8" fill="#c9302a"/>
<rect x="440.33" y="609.9" width="7.4" height="20.5" fill="#d2d2d2"/>
<rect x="440.33" y="600.4" width="7.4" height="9.5" fill="#c9302a"/>
<rect x="457.36" y="606.1" width="7.4" height="24.3" fill="#d2d2d2"/>
<rect x="457.36" y="595.1" width="7.4" height="11" fill="#c9302a"/>
<rect x="474.39" y="599.2" width="7.4" height="31.2" fill="#d2d2d2"/>
<rect x="474.39" y="585.9" width="7.4" height="13.3" fill="#c9302a"/>
<rect x="491.42" y="594.1" width="7.4" height="36.3" fill="#d2d2d2"/>
<rect x="491.42" y="575.1" width="7.4" height="19" fill="#c9302a"/>
<rect x="508.45" y="586.2" width="7.4" height="44.2" fill="#d2d2d2"/>
<rect x="508.45" y="563.5" width="7.4" height="22.7" fill="#c9302a"/>
<rect x="525.48" y="577.7" width="7.4" height="52.7" fill="#d2d2d2"/>
<rect x="525.48" y="548" width="7.4" height="29.7" fill="#c9302a"/>
<rect x="542.51" y="567.9" width="7.4" height="62.5" fill="#d2d2d2"/>
<rect x="542.51" y="530" width="7.4" height="37.9" fill="#c9302a"/>
<rect x="559.54" y="554.4" width="7.4" height="76" fill="#d2d2d2"/>
<rect x="559.54" y="503.3" width="7.4" height="51.1" fill="#c9302a"/>
<rect x="576.57" y="532.7" width="7.4" height="97.7" fill="#d2d2d2"/>
<rect x="576.57" y="462.5" width="7.4" height="70.2" fill="#c9302a"/>
<rect x="593.6" y="487.5" width="7.4" height="142.9" fill="#d2d2d2"/>
<rect x="593.6" y="353.5" width="7.4" height="134" fill="#c9302a"/>
<line x1="43.45" y1="353.45" x2="613.5" y2="353.45" stroke="#8a8a8a" stroke-width="1.1"/>
<line x1="43.45" y1="353.45" x2="43.45" y2="630.4" stroke="#a8a8a8" stroke-width="1.1"/>
<line x1="613.5" y1="353.45" x2="613.5" y2="630.4" stroke="#8a8a8a" stroke-width="1.1"/>
<line x1="43.45" y1="630.4" x2="613.5" y2="630.4" stroke="#a8a8a8" stroke-width="1.1"/>
<line x1="38" y1="630.4" x2="43.45" y2="630.4" stroke="#444" stroke-width="1.6"/>
<text x="33.1" y="632.9" font-size="8.2" text-anchor="end" fill="#3a3a3a" font-weight="normal">0</text>
<line x1="38.8" y1="559.8" x2="43.45" y2="559.8" stroke="#777" stroke-width="1"/>
<text x="35.2" y="562.3" font-size="8.2" text-anchor="end" fill="#3a3a3a" font-weight="normal" textLength="20.15" lengthAdjust="spacingAndGlyphs">1,000</text>
<line x1="38.8" y1="489.2" x2="43.45" y2="489.2" stroke="#777" stroke-width="1"/>
<text x="35.2" y="491.7" font-size="8.2" text-anchor="end" fill="#3a3a3a" font-weight="normal" textLength="21.6" lengthAdjust="spacingAndGlyphs">2,000</text>
<line x1="38.8" y1="418.6" x2="43.45" y2="418.6" stroke="#777" stroke-width="1"/>
<text x="35.2" y="421.1" font-size="8.2" text-anchor="end" fill="#3a3a3a" font-weight="normal" textLength="21.6" lengthAdjust="spacingAndGlyphs">3,000</text>
<line x1="52.34" y1="630.4" x2="52.34" y2="633.4" stroke="#999" stroke-width="1"/>
<text x="52.34" y="642.9" font-size="8.2" text-anchor="middle" fill="#3a3a3a" font-weight="normal" textLength="10" lengthAdjust="spacingAndGlyphs">66</text>
<line x1="86.4" y1="630.4" x2="86.4" y2="633.4" stroke="#999" stroke-width="1"/>
<text x="86.4" y="642.9" font-size="8.2" text-anchor="middle" fill="#3a3a3a" font-weight="normal" textLength="10" lengthAdjust="spacingAndGlyphs">62</text>
<line x1="120.46" y1="630.4" x2="120.46" y2="633.4" stroke="#999" stroke-width="1"/>
<text x="120.46" y="642.9" font-size="8.2" text-anchor="middle" fill="#3a3a3a" font-weight="normal" textLength="10" lengthAdjust="spacingAndGlyphs">58</text>
<line x1="154.52" y1="630.4" x2="154.52" y2="633.4" stroke="#999" stroke-width="1"/>
<text x="154.52" y="642.9" font-size="8.2" text-anchor="middle" fill="#3a3a3a" font-weight="normal" textLength="10" lengthAdjust="spacingAndGlyphs">54</text>
<line x1="188.58" y1="630.4" x2="188.58" y2="633.4" stroke="#999" stroke-width="1"/>
<text x="188.58" y="642.9" font-size="8.2" text-anchor="middle" fill="#3a3a3a" font-weight="normal" textLength="10" lengthAdjust="spacingAndGlyphs">50</text>
<line x1="222.64" y1="630.4" x2="222.64" y2="633.4" stroke="#999" stroke-width="1"/>
<text x="222.64" y="642.9" font-size="8.2" text-anchor="middle" fill="#3a3a3a" font-weight="normal" textLength="10" lengthAdjust="spacingAndGlyphs">46</text>
<line x1="256.7" y1="630.4" x2="256.7" y2="633.4" stroke="#999" stroke-width="1"/>
<text x="256.7" y="642.9" font-size="8.2" text-anchor="middle" fill="#3a3a3a" font-weight="normal" textLength="10" lengthAdjust="spacingAndGlyphs">42</text>
<line x1="290.76" y1="630.4" x2="290.76" y2="633.4" stroke="#999" stroke-width="1"/>
<text x="290.76" y="642.9" font-size="8.2" text-anchor="middle" fill="#3a3a3a" font-weight="normal" textLength="10" lengthAdjust="spacingAndGlyphs">38</text>
<line x1="324.82" y1="630.4" x2="324.82" y2="633.4" stroke="#999" stroke-width="1"/>
<text x="324.82" y="642.9" font-size="8.2" text-anchor="middle" fill="#3a3a3a" font-weight="normal" textLength="10" lengthAdjust="spacingAndGlyphs">34</text>
<line x1="358.88" y1="630.4" x2="358.88" y2="633.4" stroke="#999" stroke-width="1"/>
<text x="358.88" y="642.9" font-size="8.2" text-anchor="middle" fill="#3a3a3a" font-weight="normal" textLength="10" lengthAdjust="spacingAndGlyphs">30</text>
<line x1="392.94" y1="630.4" x2="392.94" y2="633.4" stroke="#999" stroke-width="1"/>
<text x="392.94" y="642.9" font-size="8.2" text-anchor="middle" fill="#3a3a3a" font-weight="normal" textLength="10" lengthAdjust="spacingAndGlyphs">26</text>
<line x1="427" y1="630.4" x2="427" y2="633.4" stroke="#999" stroke-width="1"/>
<text x="427" y="642.9" font-size="8.2" text-anchor="middle" fill="#3a3a3a" font-weight="normal" textLength="10" lengthAdjust="spacingAndGlyphs">22</text>
<line x1="461.06" y1="630.4" x2="461.06" y2="633.4" stroke="#999" stroke-width="1"/>
<text x="461.06" y="642.9" font-size="8.2" text-anchor="middle" fill="#3a3a3a" font-weight="normal" textLength="8.55" lengthAdjust="spacingAndGlyphs">18</text>
<line x1="495.12" y1="630.4" x2="495.12" y2="633.4" stroke="#999" stroke-width="1"/>
<text x="495.12" y="642.9" font-size="8.2" text-anchor="middle" fill="#3a3a3a" font-weight="normal" textLength="8.55" lengthAdjust="spacingAndGlyphs">14</text>
<line x1="529.18" y1="630.4" x2="529.18" y2="633.4" stroke="#999" stroke-width="1"/>
<text x="529.18" y="642.9" font-size="8.2" text-anchor="middle" fill="#3a3a3a" font-weight="normal" textLength="8.55" lengthAdjust="spacingAndGlyphs">10</text>
<line x1="563.24" y1="630.4" x2="563.24" y2="633.4" stroke="#999" stroke-width="1"/>
<text x="563.24" y="642.9" font-size="8.2" text-anchor="middle" fill="#3a3a3a" font-weight="normal">6</text>
<line x1="597.3" y1="630.4" x2="597.3" y2="633.4" stroke="#999" stroke-width="1"/>
<text x="597.3" y="642.9" font-size="8.2" text-anchor="middle" fill="#3a3a3a" font-weight="normal">2</text>
<text x="614.5" y="642.9" font-size="8.2" text-anchor="middle" fill="#1e1e1e" font-weight="normal" textLength="9.4" lengthAdjust="spacingAndGlyphs" stroke="#1e1e1e" stroke-width="0.14">Ma</text>
<text x="0" y="0" font-size="8.3" fill="#1e1e1e" stroke="#1e1e1e" stroke-width="0.1" text-anchor="middle" textLength="75.8" lengthAdjust="spacingAndGlyphs" transform="translate(7.8,491.55) rotate(-90)">Number of species</text>
<path d="M43.5,622.36 C43.83,622.34 44.84,622.31 45.5,622.28 C46.17,622.25 46.84,622.23 47.51,622.2 C48.17,622.18 48.84,622.15 49.51,622.13 C50.18,622.1 50.84,622.08 51.51,622.05 C52.18,622.02 52.85,622 53.51,621.97 C54.18,621.95 54.85,621.93 55.52,621.9 C56.18,621.88 56.85,621.85 57.52,621.83 C58.19,621.8 58.85,621.78 59.52,621.75 C60.19,621.73 60.86,621.71 61.52,621.68 C62.19,621.66 62.86,621.63 63.53,621.61 C64.19,621.59 64.86,621.56 65.53,621.54 C66.2,621.51 66.86,621.49 67.53,621.47 C68.2,621.44 68.87,621.42 69.53,621.4 C70.2,621.37 70.87,621.35 71.54,621.32 C72.21,621.3 72.87,621.28 73.54,621.25 C74.21,621.23 74.88,621.21 75.54,621.18 C76.21,621.16 76.88,621.14 77.55,621.11 C78.21,621.09 78.88,621.07 79.55,621.04 C80.22,621.02 80.88,621 81.55,620.97 C82.22,620.95 82.89,620.93 83.55,620.9 C84.22,620.88 84.89,620.86 85.56,620.83 C86.22,620.81 86.89,620.79 87.56,620.76 C88.23,620.74 88.89,620.71 89.56,620.69 C90.23,620.67 90.9,620.64 91.56,620.62 C92.23,620.6 92.9,620.57 93.57,620.55 C94.23,620.52 94.9,620.5 95.57,620.48 C96.24,620.45 96.9,620.43 97.57,620.4 C98.24,620.38 98.91,620.36 99.58,620.33 C100.24,620.31 100.91,620.28 101.58,620.26 C102.25,620.23 102.91,620.21 103.58,620.18 C104.25,620.16 104.92,620.14 105.58,620.11 C106.25,620.09 106.92,620.06 107.59,620.03 C108.25,620.01 108.92,619.98 109.59,619.96 C110.26,619.93 110.92,619.91 111.59,619.88 C112.26,619.86 112.93,619.83 113.59,619.8 C114.26,619.78 114.93,619.75 115.6,619.73 C116.26,619.7 116.93,619.67 117.6,619.65 C118.27,619.62 118.93,619.59 119.6,619.57 C120.27,619.54 120.94,619.51 121.6,619.48 C122.27,619.46 122.94,619.43 123.61,619.4 C124.27,619.37 124.94,619.35 125.61,619.32 C126.28,619.29 126.95,619.26 127.61,619.23 C128.28,619.2 128.95,619.18 129.62,619.15 C130.28,619.12 130.95,619.09 131.62,619.06 C132.29,619.03 132.95,619 133.62,618.97 C134.29,618.94 134.96,618.91 135.62,618.88 C136.29,618.85 136.96,618.82 137.63,618.79 C138.29,618.76 138.96,618.73 139.63,618.69 C140.3,618.66 140.96,618.63 141.63,618.6 C142.3,618.57 142.97,618.53 143.63,618.5 C144.3,618.47 144.97,618.44 145.64,618.4 C146.3,618.37 146.97,618.34 147.64,618.3 C148.31,618.27 148.97,618.23 149.64,618.2 C150.31,618.17 150.98,618.13 151.64,618.1 C152.31,618.06 152.98,618.03 153.65,617.99 C154.32,617.95 154.98,617.92 155.65,617.88 C156.32,617.85 156.99,617.81 157.65,617.77 C158.32,617.74 158.99,617.7 159.66,617.66 C160.32,617.62 160.99,617.58 161.66,617.55 C162.33,617.51 162.99,617.47 163.66,617.43 C164.33,617.39 165,617.35 165.66,617.31 C166.33,617.27 167,617.23 167.67,617.19 C168.33,617.15 169,617.11 169.67,617.07 C170.34,617.03 171,616.98 171.67,616.94 C172.34,616.9 173.01,616.86 173.67,616.81 C174.34,616.77 175.01,616.73 175.68,616.68 C176.34,616.64 177.01,616.6 177.68,616.55 C178.35,616.51 179.01,616.46 179.68,616.42 C180.35,616.37 181.02,616.32 181.69,616.28 C182.35,616.23 183.02,616.18 183.69,616.14 C184.36,616.09 185.02,616.04 185.69,615.99 C186.36,615.95 187.03,615.9 187.69,615.85 C188.36,615.8 189.03,615.75 189.7,615.7 C190.36,615.65 191.03,615.6 191.7,615.55 C192.37,615.5 193.03,615.45 193.7,615.4 C194.37,615.34 195.04,615.29 195.7,615.24 C196.37,615.19 197.04,615.13 197.71,615.08 C198.37,615.03 199.04,614.97 199.71,614.92 C200.38,614.86 201.04,614.81 201.71,614.75 C202.38,614.7 203.05,614.64 203.71,614.59 C204.38,614.53 205.05,614.47 205.72,614.42 C206.38,614.36 207.05,614.3 207.72,614.24 C208.39,614.18 209.06,614.12 209.72,614.06 C210.39,614 211.06,613.94 211.73,613.88 C212.39,613.82 213.06,613.76 213.73,613.7 C214.4,613.64 215.06,613.58 215.73,613.52 C216.4,613.45 217.07,613.39 217.73,613.33 C218.4,613.26 219.07,613.2 219.74,613.13 C220.4,613.07 221.07,613 221.74,612.94 C222.41,612.87 223.07,612.8 223.74,612.74 C224.41,612.67 225.08,612.6 225.74,612.54 C226.41,612.47 227.08,612.4 227.75,612.33 C228.41,612.26 229.08,612.19 229.75,612.12 C230.42,612.05 231.08,611.98 231.75,611.91 C232.42,611.84 233.09,611.76 233.75,611.69 C234.42,611.62 235.09,611.54 235.76,611.47 C236.43,611.4 237.09,611.32 237.76,611.25 C238.43,611.17 239.1,611.1 239.76,611.02 C240.43,610.94 241.1,610.87 241.77,610.79 C242.43,610.71 243.1,610.63 243.77,610.56 C244.44,610.48 245.1,610.4 245.77,610.32 C246.44,610.24 247.11,610.16 247.77,610.08 C248.44,609.99 249.11,609.91 249.78,609.83 C250.44,609.75 251.11,609.66 251.78,609.58 C252.45,609.5 253.11,609.41 253.78,609.33 C254.45,609.24 255.12,609.16 255.78,609.07 C256.45,608.98 257.12,608.9 257.79,608.81 C258.45,608.72 259.12,608.63 259.79,608.54 C260.46,608.45 261.12,608.37 261.79,608.27 C262.46,608.18 263.13,608.09 263.8,608 C264.46,607.91 265.13,607.82 265.8,607.72 C266.47,607.63 267.13,607.54 267.8,607.44 C268.47,607.35 269.14,607.25 269.8,607.16 C270.47,607.06 271.14,606.96 271.81,606.87 C272.47,606.77 273.14,606.67 273.81,606.57 C274.48,606.47 275.14,606.38 275.81,606.27 C276.48,606.17 277.15,606.07 277.81,605.97 C278.48,605.87 279.15,605.77 279.82,605.66 C280.48,605.56 281.15,605.46 281.82,605.35 C282.49,605.24 283.15,605.14 283.82,605.03 C284.49,604.92 285.16,604.82 285.82,604.71 C286.49,604.6 287.16,604.49 287.83,604.38 C288.49,604.27 289.16,604.16 289.83,604.04 C290.5,603.93 291.17,603.82 291.83,603.7 C292.5,603.59 293.17,603.47 293.84,603.36 C294.5,603.24 295.17,603.12 295.84,603.01 C296.51,602.89 297.17,602.77 297.84,602.65 C298.51,602.53 299.18,602.4 299.84,602.28 C300.51,602.16 301.18,602.03 301.85,601.91 C302.51,601.78 303.18,601.66 303.85,601.53 C304.52,601.4 305.18,601.27 305.85,601.15 C306.52,601.02 307.19,600.88 307.85,600.75 C308.52,600.62 309.19,600.49 309.86,600.35 C310.52,600.22 311.19,600.08 311.86,599.95 C312.53,599.81 313.19,599.67 313.86,599.53 C314.53,599.39 315.2,599.25 315.86,599.11 C316.53,598.97 317.2,598.82 317.87,598.68 C318.53,598.53 319.2,598.39 319.87,598.24 C320.54,598.09 321.21,597.94 321.87,597.79 C322.54,597.64 323.21,597.49 323.88,597.34 C324.54,597.19 325.21,597.03 325.88,596.87 C326.55,596.72 327.21,596.56 327.88,596.4 C328.55,596.24 329.22,596.08 329.88,595.92 C330.55,595.76 331.22,595.6 331.89,595.43 C332.55,595.27 333.22,595.1 333.89,594.93 C334.56,594.76 335.22,594.6 335.89,594.42 C336.56,594.25 337.23,594.08 337.89,593.91 C338.56,593.73 339.23,593.56 339.9,593.38 C340.56,593.2 341.23,593.02 341.9,592.84 C342.57,592.66 343.23,592.48 343.9,592.29 C344.57,592.11 345.24,591.92 345.9,591.74 C346.57,591.55 347.24,591.36 347.91,591.17 C348.58,590.98 349.24,590.79 349.91,590.59 C350.58,590.4 351.25,590.2 351.91,590 C352.58,589.81 353.25,589.61 353.92,589.4 C354.58,589.2 355.25,589 355.92,588.79 C356.59,588.59 357.25,588.38 357.92,588.17 C358.59,587.96 359.26,587.75 359.92,587.54 C360.59,587.33 361.26,587.11 361.93,586.9 C362.59,586.68 363.26,586.46 363.93,586.24 C364.6,586.02 365.26,585.8 365.93,585.57 C366.6,585.35 367.27,585.12 367.93,584.89 C368.6,584.67 369.27,584.43 369.94,584.2 C370.6,583.97 371.27,583.74 371.94,583.5 C372.61,583.26 373.27,583.02 373.94,582.78 C374.61,582.54 375.28,582.3 375.95,582.06 C376.61,581.81 377.28,581.56 377.95,581.31 C378.62,581.07 379.28,580.81 379.95,580.56 C380.62,580.31 381.29,580.05 381.95,579.79 C382.62,579.54 383.29,579.28 383.96,579.01 C384.62,578.75 385.29,578.49 385.96,578.22 C386.63,577.95 387.29,577.69 387.96,577.41 C388.63,577.14 389.3,576.87 389.96,576.59 C390.63,576.32 391.3,576.04 391.97,575.76 C392.63,575.48 393.3,575.2 393.97,574.91 C394.64,574.63 395.3,574.34 395.97,574.05 C396.64,573.76 397.31,573.47 397.97,573.17 C398.64,572.88 399.31,572.58 399.98,572.28 C400.64,571.98 401.31,571.68 401.98,571.38 C402.65,571.07 403.32,570.77 403.98,570.46 C404.65,570.15 405.32,569.84 405.99,569.52 C406.65,569.21 407.32,568.89 407.99,568.57 C408.66,568.25 409.32,567.93 409.99,567.61 C410.66,567.28 411.33,566.95 411.99,566.62 C412.66,566.3 413.33,565.96 414,565.63 C414.66,565.29 415.33,564.96 416,564.62 C416.67,564.28 417.33,563.93 418,563.59 C418.67,563.24 419.34,562.9 420,562.54 C420.67,562.19 421.34,561.84 422.01,561.48 C422.67,561.13 423.34,560.77 424.01,560.41 C424.68,560.05 425.34,559.68 426.01,559.31 C426.68,558.95 427.35,558.58 428.01,558.2 C428.68,557.83 429.35,557.46 430.02,557.08 C430.69,556.7 431.35,556.32 432.02,555.93 C432.69,555.55 433.36,555.16 434.02,554.77 C434.69,554.38 435.36,553.99 436.03,553.6 C436.69,553.2 437.36,552.8 438.03,552.4 C438.7,552 439.36,551.59 440.03,551.19 C440.7,550.78 441.37,550.37 442.03,549.96 C442.7,549.54 443.37,549.13 444.04,548.71 C444.7,548.29 445.37,547.86 446.04,547.44 C446.71,547.01 447.37,546.58 448.04,546.15 C448.71,545.72 449.38,545.28 450.04,544.84 C450.71,544.4 451.38,543.96 452.05,543.51 C452.71,543.06 453.38,542.61 454.05,542.16 C454.72,541.7 455.38,541.25 456.05,540.79 C456.72,540.32 457.39,539.86 458.06,539.39 C458.72,538.92 459.39,538.45 460.06,537.97 C460.73,537.49 461.39,537.01 462.06,536.53 C462.73,536.04 463.4,535.55 464.06,535.06 C464.73,534.56 465.4,534.07 466.07,533.56 C466.73,533.06 467.4,532.56 468.07,532.05 C468.74,531.53 469.4,531.02 470.07,530.5 C470.74,529.98 471.41,529.46 472.07,528.93 C472.74,528.4 473.41,527.87 474.08,527.33 C474.74,526.79 475.41,526.25 476.08,525.7 C476.75,525.15 477.41,524.6 478.08,524.04 C478.75,523.49 479.42,522.92 480.08,522.36 C480.75,521.79 481.42,521.22 482.09,520.64 C482.75,520.06 483.42,519.48 484.09,518.89 C484.76,518.31 485.43,517.71 486.09,517.12 C486.76,516.52 487.43,515.92 488.1,515.31 C488.76,514.7 489.43,514.08 490.1,513.47 C490.77,512.85 491.43,512.22 492.1,511.59 C492.77,510.96 493.44,510.32 494.1,509.68 C494.77,509.04 495.44,508.39 496.11,507.74 C496.77,507.09 497.44,506.43 498.11,505.76 C498.78,505.1 499.44,504.43 500.11,503.75 C500.78,503.07 501.45,502.39 502.11,501.7 C502.78,501.01 503.45,500.32 504.12,499.62 C504.78,498.92 505.45,498.21 506.12,497.49 C506.79,496.78 507.45,496.06 508.12,495.33 C508.79,494.61 509.46,493.87 510.12,493.13 C510.79,492.39 511.46,491.65 512.13,490.89 C512.8,490.14 513.46,489.38 514.13,488.61 C514.8,487.84 515.47,487.07 516.13,486.29 C516.8,485.5 517.47,484.72 518.14,483.92 C518.8,483.12 519.47,482.32 520.14,481.51 C520.81,480.7 521.47,479.88 522.14,479.05 C522.81,478.22 523.48,477.39 524.14,476.55 C524.81,475.71 525.48,474.86 526.15,474 C526.81,473.14 527.48,472.27 528.15,471.4 C528.82,470.53 529.48,469.64 530.15,468.75 C530.82,467.86 531.49,466.97 532.15,466.06 C532.82,465.15 533.49,464.23 534.16,463.31 C534.82,462.39 535.49,461.45 536.16,460.51 C536.83,459.57 537.49,458.62 538.16,457.66 C538.83,456.7 539.5,455.73 540.17,454.75 C540.83,453.78 541.5,452.79 542.17,451.79 C542.84,450.8 543.5,449.79 544.17,448.78 C544.84,447.76 545.51,446.74 546.17,445.7 C546.84,444.67 547.51,443.63 548.18,442.57 C548.84,441.52 549.51,440.46 550.18,439.39 C550.85,438.31 551.51,437.23 552.18,436.14 C552.85,435.05 553.52,433.94 554.18,432.83 C554.85,431.72 555.52,430.59 556.19,429.46 C556.85,428.33 557.52,427.18 558.19,426.03 C558.86,424.87 559.52,423.71 560.19,422.53 C560.86,421.36 561.53,420.17 562.19,418.97 C562.86,417.78 563.53,416.57 564.2,415.35 C564.86,414.13 564.62,415.08 566.2,411.66 C567.78,408.23 571.52,399.63 573.7,394.8 C575.88,389.97 577.6,386.12 579.3,382.7 C581,379.28 582.35,376.72 583.9,374.3 C585.45,371.88 587.42,369.45 588.6,368.2 C589.78,366.95 590.22,367.1 591,366.8 C591.78,366.5 592.53,366.32 593.3,366.4 C594.07,366.48 594.82,366.77 595.6,367.3 C596.38,367.83 597.27,368.48 598,369.6 C598.73,370.72 599.33,372.27 600,374 C600.67,375.73 601.33,377.83 602,380 C602.67,382.17 603.33,384.52 604,387 C604.67,389.48 605.18,391.1 606,394.9 C606.82,398.7 607.92,404.83 608.9,409.8 C609.88,414.77 611.17,421.13 611.9,424.7 C612.63,428.27 613.07,430.12 613.3,431.2" fill="none" stroke="#21679d" stroke-width="1.5" stroke-linejoin="round" stroke-linecap="butt"/>
<path d="M43.5,623.72 C43.83,623.71 44.84,623.68 45.51,623.66 C46.17,623.64 46.84,623.61 47.51,623.59 C48.18,623.57 48.85,623.55 49.52,623.53 C50.18,623.51 50.85,623.49 51.52,623.47 C52.19,623.45 52.86,623.43 53.53,623.41 C54.19,623.39 54.86,623.37 55.53,623.35 C56.2,623.33 56.87,623.31 57.54,623.29 C58.21,623.27 58.87,623.25 59.54,623.23 C60.21,623.21 60.88,623.2 61.55,623.18 C62.22,623.16 62.88,623.14 63.55,623.12 C64.22,623.1 64.89,623.08 65.56,623.07 C66.23,623.05 66.89,623.03 67.56,623.01 C68.23,623 68.9,622.98 69.57,622.96 C70.24,622.94 70.91,622.93 71.57,622.91 C72.24,622.89 72.91,622.87 73.58,622.86 C74.25,622.84 74.92,622.82 75.58,622.81 C76.25,622.79 76.92,622.77 77.59,622.76 C78.26,622.74 78.93,622.72 79.6,622.71 C80.26,622.69 80.93,622.68 81.6,622.66 C82.27,622.64 82.94,622.63 83.61,622.61 C84.27,622.6 84.94,622.58 85.61,622.56 C86.28,622.55 86.95,622.53 87.62,622.52 C88.28,622.5 88.95,622.49 89.62,622.47 C90.29,622.46 90.96,622.44 91.63,622.42 C92.3,622.41 92.96,622.39 93.63,622.38 C94.3,622.36 94.97,622.35 95.64,622.33 C96.31,622.32 96.97,622.3 97.64,622.29 C98.31,622.27 98.98,622.26 99.65,622.24 C100.32,622.23 100.98,622.21 101.65,622.2 C102.32,622.18 102.99,622.17 103.66,622.15 C104.33,622.14 105,622.12 105.66,622.11 C106.33,622.09 107,622.08 107.67,622.06 C108.34,622.05 109.01,622.03 109.67,622.02 C110.34,622 111.01,621.99 111.68,621.97 C112.35,621.96 113.02,621.94 113.68,621.93 C114.35,621.91 115.02,621.9 115.69,621.88 C116.36,621.87 117.03,621.85 117.7,621.84 C118.36,621.82 119.03,621.81 119.7,621.79 C120.37,621.77 121.04,621.76 121.71,621.74 C122.37,621.73 123.04,621.71 123.71,621.7 C124.38,621.68 125.05,621.67 125.72,621.65 C126.38,621.64 127.05,621.62 127.72,621.6 C128.39,621.59 129.06,621.57 129.73,621.56 C130.4,621.54 131.06,621.52 131.73,621.51 C132.4,621.49 133.07,621.48 133.74,621.46 C134.41,621.44 135.07,621.43 135.74,621.41 C136.41,621.39 137.08,621.38 137.75,621.36 C138.42,621.34 139.09,621.33 139.75,621.31 C140.42,621.29 141.09,621.28 141.76,621.26 C142.43,621.24 143.1,621.22 143.76,621.21 C144.43,621.19 145.1,621.17 145.77,621.15 C146.44,621.14 147.11,621.12 147.77,621.1 C148.44,621.08 149.11,621.06 149.78,621.04 C150.45,621.03 151.12,621.01 151.79,620.99 C152.45,620.97 153.12,620.95 153.79,620.93 C154.46,620.91 155.13,620.89 155.8,620.87 C156.46,620.86 157.13,620.84 157.8,620.82 C158.47,620.8 159.14,620.78 159.81,620.76 C160.47,620.74 161.14,620.72 161.81,620.7 C162.48,620.68 163.15,620.65 163.82,620.63 C164.49,620.61 165.15,620.59 165.82,620.57 C166.49,620.55 167.16,620.53 167.83,620.51 C168.5,620.48 169.16,620.46 169.83,620.44 C170.5,620.42 171.17,620.39 171.84,620.37 C172.51,620.35 173.17,620.33 173.84,620.3 C174.51,620.28 175.18,620.26 175.85,620.23 C176.52,620.21 177.19,620.19 177.85,620.16 C178.52,620.14 179.19,620.11 179.86,620.09 C180.53,620.06 181.2,620.04 181.86,620.01 C182.53,619.99 183.2,619.96 183.87,619.94 C184.54,619.91 185.21,619.88 185.88,619.86 C186.54,619.83 187.21,619.81 187.88,619.78 C188.55,619.75 189.22,619.72 189.89,619.7 C190.55,619.67 191.22,619.64 191.89,619.61 C192.56,619.59 193.23,619.56 193.9,619.53 C194.56,619.5 195.23,619.47 195.9,619.44 C196.57,619.41 197.24,619.38 197.91,619.35 C198.58,619.32 199.24,619.29 199.91,619.26 C200.58,619.23 201.25,619.2 201.92,619.17 C202.59,619.14 203.25,619.1 203.92,619.07 C204.59,619.04 205.26,619.01 205.93,618.98 C206.6,618.94 207.26,618.91 207.93,618.88 C208.6,618.84 209.27,618.81 209.94,618.77 C210.61,618.74 211.28,618.71 211.94,618.67 C212.61,618.64 213.28,618.6 213.95,618.56 C214.62,618.53 215.29,618.49 215.95,618.46 C216.62,618.42 217.29,618.38 217.96,618.34 C218.63,618.31 219.3,618.27 219.96,618.23 C220.63,618.19 221.3,618.15 221.97,618.12 C222.64,618.08 223.31,618.04 223.98,618 C224.64,617.96 225.31,617.92 225.98,617.88 C226.65,617.84 227.32,617.79 227.99,617.75 C228.65,617.71 229.32,617.67 229.99,617.63 C230.66,617.58 231.33,617.54 232,617.5 C232.66,617.46 233.33,617.41 234,617.37 C234.67,617.32 235.34,617.28 236.01,617.23 C236.68,617.19 237.34,617.14 238.01,617.1 C238.68,617.05 239.35,617 240.02,616.96 C240.69,616.91 241.35,616.86 242.02,616.81 C242.69,616.77 243.36,616.72 244.03,616.67 C244.7,616.62 245.37,616.57 246.03,616.52 C246.7,616.47 247.37,616.42 248.04,616.37 C248.71,616.32 249.38,616.27 250.04,616.21 C250.71,616.16 251.38,616.11 252.05,616.06 C252.72,616 253.39,615.95 254.05,615.89 C254.72,615.84 255.39,615.79 256.06,615.73 C256.73,615.67 257.4,615.62 258.07,615.56 C258.73,615.51 259.4,615.45 260.07,615.39 C260.74,615.33 261.41,615.28 262.08,615.22 C262.74,615.16 263.41,615.1 264.08,615.04 C264.75,614.98 265.42,614.92 266.09,614.86 C266.75,614.8 267.42,614.74 268.09,614.68 C268.76,614.61 269.43,614.55 270.1,614.49 C270.77,614.43 271.43,614.36 272.1,614.3 C272.77,614.23 273.44,614.17 274.11,614.1 C274.78,614.04 275.44,613.97 276.11,613.9 C276.78,613.84 277.45,613.77 278.12,613.7 C278.79,613.63 279.45,613.56 280.12,613.5 C280.79,613.43 281.46,613.36 282.13,613.29 C282.8,613.22 283.47,613.14 284.13,613.07 C284.8,613 285.47,612.93 286.14,612.86 C286.81,612.78 287.48,612.71 288.14,612.63 C288.81,612.56 289.48,612.48 290.15,612.41 C290.82,612.33 291.49,612.26 292.15,612.18 C292.82,612.1 293.49,612.03 294.16,611.95 C294.83,611.87 295.5,611.79 296.17,611.71 C296.83,611.63 297.5,611.55 298.17,611.47 C298.84,611.39 299.51,611.31 300.18,611.22 C300.84,611.14 301.51,611.06 302.18,610.97 C302.85,610.89 303.52,610.81 304.19,610.72 C304.86,610.63 305.52,610.55 306.19,610.46 C306.86,610.38 307.53,610.29 308.2,610.2 C308.87,610.11 309.53,610.02 310.2,609.93 C310.87,609.84 311.54,609.75 312.21,609.66 C312.88,609.57 313.54,609.48 314.21,609.39 C314.88,609.29 315.55,609.2 316.22,609.11 C316.89,609.01 317.56,608.92 318.22,608.82 C318.89,608.72 319.56,608.63 320.23,608.53 C320.9,608.43 321.57,608.33 322.23,608.23 C322.9,608.13 323.57,608.03 324.24,607.93 C324.91,607.83 325.58,607.73 326.24,607.63 C326.91,607.52 327.58,607.42 328.25,607.31 C328.92,607.21 329.59,607.1 330.26,607 C330.92,606.89 331.59,606.78 332.26,606.67 C332.93,606.56 333.6,606.45 334.27,606.34 C334.93,606.23 335.6,606.12 336.27,606.01 C336.94,605.89 337.61,605.78 338.28,605.66 C338.94,605.55 339.61,605.43 340.28,605.31 C340.95,605.2 341.62,605.08 342.29,604.96 C342.96,604.84 343.62,604.72 344.29,604.6 C344.96,604.47 345.63,604.35 346.3,604.23 C346.97,604.1 347.63,603.98 348.3,603.85 C348.97,603.72 349.64,603.59 350.31,603.46 C350.98,603.33 351.64,603.2 352.31,603.07 C352.98,602.94 353.65,602.81 354.32,602.67 C354.99,602.54 355.66,602.4 356.32,602.26 C356.99,602.13 357.66,601.99 358.33,601.85 C359,601.71 359.67,601.57 360.33,601.43 C361,601.28 361.67,601.14 362.34,600.99 C363.01,600.85 363.68,600.7 364.35,600.55 C365.01,600.41 365.68,600.26 366.35,600.11 C367.02,599.95 367.69,599.8 368.36,599.65 C369.02,599.49 369.69,599.34 370.36,599.18 C371.03,599.02 371.7,598.87 372.37,598.71 C373.03,598.55 373.7,598.38 374.37,598.22 C375.04,598.06 375.71,597.89 376.38,597.73 C377.05,597.56 377.71,597.39 378.38,597.22 C379.05,597.05 379.72,596.88 380.39,596.71 C381.06,596.54 381.72,596.36 382.39,596.19 C383.06,596.01 383.73,595.83 384.4,595.65 C385.07,595.47 385.73,595.29 386.4,595.11 C387.07,594.93 387.74,594.74 388.41,594.56 C389.08,594.37 389.75,594.18 390.41,593.99 C391.08,593.8 391.75,593.61 392.42,593.42 C393.09,593.23 393.76,593.03 394.42,592.83 C395.09,592.64 395.76,592.44 396.43,592.24 C397.1,592.04 397.77,591.84 398.43,591.63 C399.1,591.43 399.77,591.22 400.44,591.01 C401.11,590.8 401.78,590.6 402.45,590.38 C403.11,590.17 403.78,589.96 404.45,589.74 C405.12,589.53 405.79,589.31 406.46,589.09 C407.12,588.87 407.79,588.65 408.46,588.42 C409.13,588.2 409.8,587.98 410.47,587.75 C411.13,587.52 411.8,587.29 412.47,587.06 C413.14,586.83 413.81,586.59 414.48,586.36 C415.15,586.12 415.81,585.88 416.48,585.64 C417.15,585.4 417.82,585.16 418.49,584.92 C419.16,584.67 419.82,584.43 420.49,584.18 C421.16,583.93 421.83,583.68 422.5,583.43 C423.17,583.18 423.84,582.92 424.5,582.66 C425.17,582.41 425.84,582.15 426.51,581.89 C427.18,581.62 427.85,581.36 428.51,581.09 C429.18,580.83 429.85,580.56 430.52,580.29 C431.19,580.02 431.86,579.75 432.52,579.47 C433.19,579.2 433.86,578.92 434.53,578.64 C435.2,578.36 435.87,578.08 436.54,577.79 C437.2,577.51 437.87,577.22 438.54,576.93 C439.21,576.64 439.88,576.35 440.55,576.06 C441.21,575.76 441.88,575.47 442.55,575.17 C443.22,574.87 443.89,574.57 444.56,574.26 C445.22,573.96 445.89,573.65 446.56,573.35 C447.23,573.04 447.9,572.73 448.57,572.41 C449.24,572.1 449.9,571.78 450.57,571.46 C451.24,571.14 451.91,570.82 452.58,570.5 C453.25,570.18 453.91,569.85 454.58,569.52 C455.25,569.19 455.92,568.86 456.59,568.53 C457.26,568.19 457.92,567.86 458.59,567.52 C459.26,567.18 459.93,566.83 460.6,566.49 C461.27,566.15 461.94,565.8 462.6,565.45 C463.27,565.1 463.94,564.75 464.61,564.39 C465.28,564.03 465.95,563.68 466.61,563.32 C467.28,562.95 467.95,562.59 468.62,562.22 C469.29,561.86 469.96,561.49 470.62,561.12 C471.29,560.75 471.96,560.37 472.63,560 C473.3,559.62 473.97,559.24 474.64,558.86 C475.3,558.49 475.97,558.1 476.64,557.72 C477.31,557.34 477.98,556.95 478.65,556.57 C479.31,556.18 479.98,555.79 480.65,555.41 C481.32,555.02 481.99,554.63 482.66,554.24 C483.33,553.85 483.99,553.46 484.66,553.07 C485.33,552.67 486,552.28 486.67,551.89 C487.34,551.5 488,551.1 488.67,550.71 C489.34,550.32 490.01,549.93 490.68,549.53 C491.35,549.14 492.01,548.75 492.68,548.36 C493.35,547.96 494.02,547.57 494.69,547.18 C495.36,546.79 496.03,546.4 496.69,546.01 C497.36,545.62 498.03,545.23 498.7,544.84 C499.37,544.46 500.04,544.07 500.7,543.69 C501.37,543.3 502.04,542.92 502.71,542.54 C503.38,542.15 504.05,541.77 504.71,541.39 C505.38,541.01 506.05,540.64 506.72,540.25 C507.39,539.87 508.06,539.49 508.73,539.11 C509.39,538.73 510.06,538.34 510.73,537.95 C511.4,537.57 512.07,537.18 512.74,536.78 C513.4,536.39 514.07,535.99 514.74,535.59 C515.41,535.19 516.08,534.78 516.75,534.36 C517.41,533.95 518.08,533.53 518.75,533.11 C519.42,532.68 520.09,532.25 520.76,531.8 C521.43,531.36 522.09,530.91 522.76,530.46 C523.43,530 524.1,529.53 524.77,529.05 C525.44,528.57 526.1,528.09 526.77,527.59 C527.44,527.09 528.11,526.58 528.78,526.06 C529.45,525.54 530.12,525 530.78,524.46 C531.45,523.91 532.12,523.35 532.79,522.77 C533.46,522.2 534.13,521.61 534.79,521.01 C535.46,520.4 536.13,519.78 536.8,519.15 C537.47,518.51 538.14,517.86 538.8,517.19 C539.47,516.52 540.14,515.84 540.81,515.13 C541.48,514.43 542.15,513.7 542.82,512.96 C543.48,512.22 544.15,511.46 544.82,510.68 C545.49,509.89 546.16,509.09 546.83,508.27 C547.49,507.44 548.16,506.6 548.83,505.73 C549.5,504.86 550.17,503.97 550.84,503.05 C551.5,502.14 552.17,501.2 552.84,500.24 C553.51,499.28 554.18,498.29 554.85,497.28 C555.52,496.26 556.18,495.23 556.85,494.16 C557.52,493.1 558.19,492.01 558.86,490.89 C559.53,489.77 560.19,488.62 560.86,487.44 C561.53,486.27 562.2,485.06 562.87,483.83 C563.54,482.61 564.2,481.35 564.87,480.09 C565.54,478.82 566.21,477.53 566.88,476.24 C567.55,474.95 568.22,473.65 568.88,472.35 C569.55,471.05 570.22,469.75 570.89,468.45 C571.56,467.16 572.23,465.87 572.89,464.6 C573.56,463.33 574.23,462.06 574.9,460.83 C575.57,459.59 576.24,458.37 576.9,457.19 C577.57,456 578.24,454.84 578.91,453.72 C579.58,452.61 580.25,451.52 580.92,450.48 C581.58,449.44 582.25,448.44 582.92,447.5 C583.59,446.56 584.26,445.66 584.93,444.83 C585.59,444 586.26,443.22 586.93,442.51 C587.6,441.8 588.27,441.16 588.94,440.59 C589.61,440.03 590.27,439.52 590.94,439.12 C591.61,438.72 592.28,438.39 592.95,438.19 C593.62,437.98 594.28,437.87 594.95,437.9 C595.62,437.94 596.29,438.08 596.96,438.39 C597.63,438.7 598.29,439.14 598.96,439.76 C599.63,440.39 600.3,441.16 600.97,442.15 C601.64,443.13 602.31,444.28 602.97,445.65 C603.64,447.03 604.31,448.59 604.98,450.4 C605.65,452.21 606.32,454.23 606.98,456.5 C607.65,458.77 608.32,461.27 608.99,464.02 C609.66,466.76 610.33,469.74 610.99,472.97 C611.66,476.2 612.67,481.66 613,483.4" fill="none" stroke="#c9302a" stroke-width="1.5" stroke-linejoin="round" stroke-linecap="butt"/>
<polygon points="593.4,361.8 594.9,364.84 598.25,365.32 595.83,367.69 596.4,371.03 593.4,369.45 590.4,371.03 590.97,367.69 588.55,365.32 591.9,364.84" fill="#fff" stroke="#4a4a4a" stroke-width="1.45" stroke-linejoin="miter"/>
<polygon points="593.9,431.8 595.4,434.84 598.75,435.32 596.33,437.69 596.9,441.03 593.9,439.45 590.9,441.03 591.47,437.69 589.05,435.32 592.4,434.84" fill="#fff" stroke="#4a4a4a" stroke-width="1.45" stroke-linejoin="miter"/>
<line x1="613.5" y1="630.3" x2="617.5" y2="630.3" stroke="#999" stroke-width="1"/>
<text x="620.6" y="632.8" font-size="8.2" text-anchor="start" fill="#3a3a3a" font-weight="normal">0</text>
<line x1="613.5" y1="571.35" x2="617.5" y2="571.35" stroke="#999" stroke-width="1"/>
<text x="620.6" y="573.85" font-size="8.2" text-anchor="start" fill="#3a3a3a" font-weight="normal" textLength="13.4" lengthAdjust="spacingAndGlyphs">100</text>
<line x1="613.5" y1="512.4" x2="617.5" y2="512.4" stroke="#999" stroke-width="1"/>
<text x="620.6" y="514.9" font-size="8.2" text-anchor="start" fill="#3a3a3a" font-weight="normal" textLength="14.85" lengthAdjust="spacingAndGlyphs">200</text>
<line x1="613.5" y1="453.45" x2="617.5" y2="453.45" stroke="#999" stroke-width="1"/>
<text x="620.6" y="455.95" font-size="8.2" text-anchor="start" fill="#3a3a3a" font-weight="normal" textLength="14.85" lengthAdjust="spacingAndGlyphs">300</text>
<line x1="648.5" y1="353.45" x2="648.5" y2="630.4" stroke="#8a8a8a" stroke-width="1.1"/>
<line x1="648.5" y1="353.45" x2="652.2" y2="353.45" stroke="#777" stroke-width="1"/>
<line x1="648.5" y1="630.2" x2="652.6" y2="630.2" stroke="#999" stroke-width="1"/>
<text x="655.7" y="632.7" font-size="8.2" text-anchor="start" fill="#3a3a3a" font-weight="normal">0</text>
<line x1="648.5" y1="567.2" x2="652.6" y2="567.2" stroke="#999" stroke-width="1"/>
<text x="655.7" y="569.7" font-size="8.2" text-anchor="start" fill="#3a3a3a" font-weight="normal" textLength="14.85" lengthAdjust="spacingAndGlyphs">200</text>
<line x1="648.5" y1="504.2" x2="652.6" y2="504.2" stroke="#999" stroke-width="1"/>
<text x="655.7" y="506.7" font-size="8.2" text-anchor="start" fill="#3a3a3a" font-weight="normal" textLength="14.85" lengthAdjust="spacingAndGlyphs">400</text>
<line x1="648.5" y1="441.2" x2="652.6" y2="441.2" stroke="#999" stroke-width="1"/>
<text x="655.7" y="443.7" font-size="8.2" text-anchor="start" fill="#3a3a3a" font-weight="normal" textLength="14.85" lengthAdjust="spacingAndGlyphs">600</text>
<line x1="648.5" y1="378.2" x2="652.6" y2="378.2" stroke="#999" stroke-width="1"/>
<text x="655.7" y="380.7" font-size="8.2" text-anchor="start" fill="#3a3a3a" font-weight="normal" textLength="14.85" lengthAdjust="spacingAndGlyphs">800</text>
<text x="0" y="0" font-size="8.3" fill="#d4443c" stroke="#d4443c" stroke-width="0.15" textLength="114" lengthAdjust="spacingAndGlyphs" transform="translate(639.2,332.9) rotate(90)">Endemic-species LAR (M a<tspan dy="-3.4" font-size="4.8">−1</tspan><tspan dy="3.4">)</tspan></text>
<text x="0" y="0" font-size="8.3" fill="#3d77ad" stroke="#3d77ad" stroke-width="0.15" textLength="88.5" lengthAdjust="spacingAndGlyphs" transform="translate(677.2,332.9) rotate(90)">All-species LAR (Ma<tspan dy="-3.4" font-size="4.8">−1</tspan><tspan dy="3.4">)</tspan></text>
<rect x="89.6" y="384.6" width="228.7" height="187.7" fill="#fff" stroke="#666" stroke-width="0.9"/>
<text x="58.7" y="390.4" font-size="12.2" text-anchor="start" fill="#000" font-weight="bold" stroke="#000" stroke-width="0.45">d</text>
<text x="94.3" y="394.7" font-size="8.4" text-anchor="start" fill="#1e1e1e" font-weight="normal" textLength="106.8" lengthAdjust="spacingAndGlyphs" stroke="#1e1e1e" stroke-width="0.14">Kruskal–Wallis, <tspan font-style="italic">P</tspan> &lt; 2.2e−16</text>
<line x1="86.8" y1="411.2" x2="89.6" y2="411.2" stroke="#555" stroke-width="0.9"/>
<text x="84.2" y="414.1" font-size="8.2" text-anchor="end" fill="#3a3a3a" font-weight="normal" textLength="19.95" lengthAdjust="spacingAndGlyphs">100.0</text>
<line x1="86.8" y1="460.9" x2="89.6" y2="460.9" stroke="#555" stroke-width="0.9"/>
<text x="84.2" y="463.8" font-size="8.2" text-anchor="end" fill="#3a3a3a" font-weight="normal" textLength="15.1" lengthAdjust="spacingAndGlyphs">10.0</text>
<line x1="86.8" y1="510.5" x2="89.6" y2="510.5" stroke="#555" stroke-width="0.9"/>
<text x="84.2" y="513.4" font-size="8.2" text-anchor="end" fill="#3a3a3a" font-weight="normal" textLength="10.25" lengthAdjust="spacingAndGlyphs">1.0</text>
<line x1="86.8" y1="560.2" x2="89.6" y2="560.2" stroke="#555" stroke-width="0.9"/>
<text x="84.2" y="563.1" font-size="8.2" text-anchor="end" fill="#3a3a3a" font-weight="normal" textLength="10.25" lengthAdjust="spacingAndGlyphs">0.1</text>
<text x="0" y="0" font-size="8.2" fill="#1e1e1e" stroke="#1e1e1e" stroke-width="0.1" text-anchor="middle" textLength="35.5" lengthAdjust="spacingAndGlyphs" transform="translate(67.3,482.6) rotate(-90)">Age (Ma)</text>
<path d="M132.4,412.2 V408.4 H275.6 V412.2" fill="none" stroke="#777" stroke-width="0.9"/>
<text x="200.55" y="406.1" font-size="8.4" text-anchor="middle" fill="#1e1e1e" font-weight="normal" textLength="44.3" lengthAdjust="spacingAndGlyphs" stroke="#1e1e1e" stroke-width="0.14"><tspan font-style="italic">P</tspan> &lt; 2.2e−16</text>
<path d="M203.9,425.1 V420.5 H275.6 V425.1" fill="none" stroke="#777" stroke-width="0.9"/>
<text x="240.4" y="418.6" font-size="8.4" text-anchor="middle" fill="#1e1e1e" font-weight="normal" textLength="44.2" lengthAdjust="spacingAndGlyphs" stroke="#1e1e1e" stroke-width="0.14"><tspan font-style="italic">P</tspan> &lt; 2.2e−16</text>
<path d="M132.4,430.6 V426.2 H203.9 V430.6" fill="none" stroke="#777" stroke-width="0.9"/>
<text x="170.6" y="424.3" font-size="8.4" text-anchor="middle" fill="#1e1e1e" font-weight="normal" textLength="44.2" lengthAdjust="spacingAndGlyphs" stroke="#1e1e1e" stroke-width="0.14"><tspan font-style="italic">P</tspan> &lt; 2.2e−16</text>
<path d="M128.3,431.3 C127.18,432.13 123.4,434.6 121.6,436.3 C119.8,438 118.72,439.62 117.5,441.5 C116.28,443.38 115.17,445.68 114.3,447.6 C113.43,449.52 112.83,451.12 112.3,453 C111.77,454.88 111.27,456.98 111.1,458.9 C110.93,460.82 111.02,462.62 111.3,464.5 C111.58,466.38 111.9,467.38 112.8,470.2 C113.7,473.02 115.47,477.65 116.7,481.4 C117.93,485.15 118.97,488.93 120.2,492.7 C121.43,496.47 122.93,500.23 124.1,504 C125.27,507.77 126.33,511.53 127.2,515.3 C128.07,519.07 128.82,523.32 129.3,526.6 C129.78,529.88 129.98,532.43 130.1,535 C130.22,537.57 130.1,539.63 130,542 C129.9,544.37 129.63,546.87 129.5,549.2 C129.37,551.53 129.2,554.12 129.2,556 C129.2,557.88 129.32,559.25 129.5,560.5 C129.68,561.75 130,562.82 130.3,563.5 C130.6,564.18 131.13,564.42 131.3,564.6 L133.3,564.6 C133.47,564.42 134,564.18 134.3,563.5 C134.6,562.82 134.92,561.75 135.1,560.5 C135.28,559.25 135.4,557.88 135.4,556 C135.4,554.12 135.23,551.53 135.1,549.2 C134.97,546.87 134.7,544.37 134.6,542 C134.5,539.63 134.38,537.57 134.5,535 C134.62,532.43 134.82,529.88 135.3,526.6 C135.78,523.32 136.53,519.07 137.4,515.3 C138.27,511.53 139.33,507.77 140.5,504 C141.67,500.23 143.17,496.47 144.4,492.7 C145.63,488.93 146.67,485.15 147.9,481.4 C149.13,477.65 150.9,473.02 151.8,470.2 C152.7,467.38 153.02,466.38 153.3,464.5 C153.58,462.62 153.67,460.82 153.5,458.9 C153.33,456.98 152.83,454.88 152.3,453 C151.77,451.12 151.17,449.52 150.3,447.6 C149.43,445.68 148.32,443.38 147.1,441.5 C145.88,439.62 144.8,438 143,436.3 C141.2,434.6 137.42,432.13 136.3,431.3 Z" fill="#81a1bf"/>
<path d="M201.6,431.3 C201.05,432.13 199.5,434.6 198.3,436.3 C197.1,438 195.72,439.62 194.4,441.5 C193.08,443.38 191.82,444.7 190.4,447.6 C188.98,450.5 186.95,455.13 185.9,458.9 C184.85,462.67 184.15,466.45 184.1,470.2 C184.05,473.95 184.75,477.65 185.6,481.4 C186.45,485.15 187.85,488.93 189.2,492.7 C190.55,496.47 192.38,500.23 193.7,504 C195.02,507.77 196.08,511.53 197.1,515.3 C198.12,519.07 199.33,523.55 199.8,526.6 C200.27,529.65 199.77,531.72 199.9,533.6 C200.03,535.48 200.48,536.17 200.6,537.9 C200.72,539.63 200.65,542.12 200.6,544 C200.55,545.88 200.37,547.37 200.3,549.2 C200.23,551.03 200.1,553.12 200.2,555 C200.3,556.88 200.62,559.08 200.9,560.5 C201.18,561.92 201.57,562.82 201.9,563.5 C202.23,564.18 202.73,564.42 202.9,564.6 L204.9,564.6 C205.07,564.42 205.57,564.18 205.9,563.5 C206.23,562.82 206.62,561.92 206.9,560.5 C207.18,559.08 207.5,556.88 207.6,555 C207.7,553.12 207.57,551.03 207.5,549.2 C207.43,547.37 207.25,545.88 207.2,544 C207.15,542.12 207.08,539.63 207.2,537.9 C207.32,536.17 207.77,535.48 207.9,533.6 C208.03,531.72 207.53,529.65 208,526.6 C208.47,523.55 209.68,519.07 210.7,515.3 C211.72,511.53 212.78,507.77 214.1,504 C215.42,500.23 217.25,496.47 218.6,492.7 C219.95,488.93 221.35,485.15 222.2,481.4 C223.05,477.65 223.75,473.95 223.7,470.2 C223.65,466.45 222.95,462.67 221.9,458.9 C220.85,455.13 218.82,450.5 217.4,447.6 C215.98,444.7 214.72,443.38 213.4,441.5 C212.08,439.62 210.7,438 209.5,436.3 C208.3,434.6 206.75,432.13 206.2,431.3 Z" fill="#de8078"/>
<path d="M269.6,431.3 C268.28,432.13 263.57,434.6 261.7,436.3 C259.83,438 259.38,439.62 258.4,441.5 C257.42,443.38 256.5,445.68 255.8,447.6 C255.1,449.52 254.58,451.12 254.2,453 C253.82,454.88 253.5,456.98 253.5,458.9 C253.5,460.82 253.82,462.62 254.2,464.5 C254.58,466.38 254.75,467.38 255.8,470.2 C256.85,473.02 258.97,477.65 260.5,481.4 C262.03,485.15 263.62,488.93 265,492.7 C266.38,496.47 267.7,500.23 268.8,504 C269.9,507.77 270.83,511.53 271.6,515.3 C272.37,519.07 273.05,522.83 273.4,526.6 C273.75,530.37 273.72,534 273.7,537.9 C273.68,541.8 273.32,546.23 273.3,550 C273.28,553.77 273.42,558.07 273.6,560.5 C273.78,562.93 274.27,563.92 274.4,564.6 L276,564.6 C276.13,563.92 276.62,562.93 276.8,560.5 C276.98,558.07 277.12,553.77 277.1,550 C277.08,546.23 276.72,541.8 276.7,537.9 C276.68,534 276.65,530.37 277,526.6 C277.35,522.83 278.03,519.07 278.8,515.3 C279.57,511.53 280.5,507.77 281.6,504 C282.7,500.23 284.02,496.47 285.4,492.7 C286.78,488.93 288.37,485.15 289.9,481.4 C291.43,477.65 293.55,473.02 294.6,470.2 C295.65,467.38 295.82,466.38 296.2,464.5 C296.58,462.62 296.9,460.82 296.9,458.9 C296.9,456.98 296.58,454.88 296.2,453 C295.82,451.12 295.3,449.52 294.6,447.6 C293.9,445.68 292.98,443.38 292,441.5 C291.02,439.62 290.57,438 288.7,436.3 C286.83,434.6 282.12,432.13 280.8,431.3 Z" fill="#e0e0e0"/>
<line x1="132.3" y1="431.3" x2="132.3" y2="564.5" stroke="#444" stroke-width="0.9"/>
<rect x="131.2" y="544.1" width="2.2" height="20.4" rx="1.1" fill="#0a0a0a"/>
<rect x="124.2" y="455" width="17" height="35.9" fill="#fff" stroke="#555" stroke-width="0.8"/>
<line x1="124.2" y1="470.8" x2="141.2" y2="470.8" stroke="#444" stroke-width="0.9"/>
<text x="132.6" y="468.9" font-size="7.8" text-anchor="middle" fill="#222" font-weight="normal">6.22</text>
<line x1="203.8" y1="431.3" x2="203.8" y2="564.6" stroke="#5a2a28" stroke-width="0.9"/>
<rect x="202.7" y="552.8" width="2.2" height="11.8" rx="1.1" fill="#0a0a0a"/>
<rect x="195.7" y="460" width="17" height="37.3" fill="#fff" stroke="#555" stroke-width="0.8"/>
<line x1="195.7" y1="476.5" x2="212.7" y2="476.5" stroke="#444" stroke-width="0.9"/>
<text x="204.1" y="474.6" font-size="7.8" text-anchor="middle" fill="#222" font-weight="normal">4.82</text>
<line x1="275.4" y1="431.3" x2="275.4" y2="564.6" stroke="#444" stroke-width="0.9"/>
<rect x="274.3" y="537.4" width="2.2" height="27.2" rx="1.1" fill="#0a0a0a"/>
<rect x="267.3" y="452.5" width="17" height="33.9" fill="#fff" stroke="#555" stroke-width="0.8"/>
<line x1="267.3" y1="467.9" x2="284.3" y2="467.9" stroke="#444" stroke-width="0.9"/>
<text x="275.7" y="466" font-size="7.8" text-anchor="middle" fill="#222" font-weight="normal">7.19</text>
<line x1="132.3" y1="572.3" x2="132.3" y2="574.6" stroke="#888" stroke-width="0.9"/>
<line x1="203.8" y1="572.3" x2="203.8" y2="574.6" stroke="#888" stroke-width="0.9"/>
<line x1="275.4" y1="572.3" x2="275.4" y2="574.6" stroke="#888" stroke-width="0.9"/>
<text x="131.3" y="585.3" font-size="7.9" text-anchor="middle" fill="#1e1e1e" font-weight="normal" textLength="9.6" lengthAdjust="spacingAndGlyphs" stroke="#1e1e1e" stroke-width="0.14">All</text>
<text x="203.6" y="585.3" font-size="7.9" text-anchor="middle" fill="#1e1e1e" font-weight="normal" textLength="30.4" lengthAdjust="spacingAndGlyphs" stroke="#1e1e1e" stroke-width="0.14">Endemic</text>
<text x="275.9" y="585.3" font-size="7.9" text-anchor="middle" fill="#1e1e1e" font-weight="normal" textLength="46.6" lengthAdjust="spacingAndGlyphs" stroke="#1e1e1e" stroke-width="0.14">Non-endemic</text>
</svg></body></html>
